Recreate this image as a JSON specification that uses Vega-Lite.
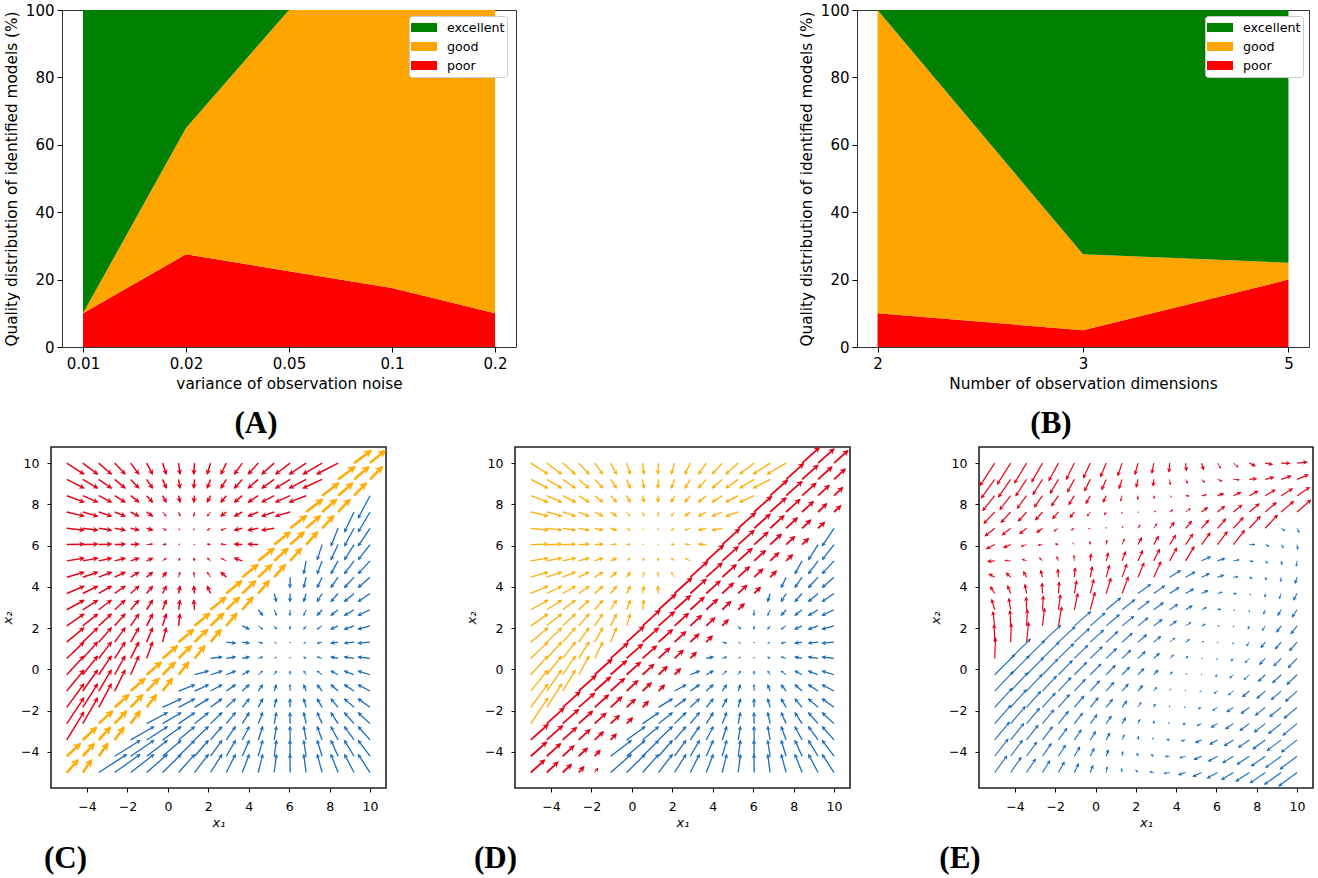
{
"$schema":"https://vega.github.io/schema/vega-lite/v6.json",
"padding":{"left":0,"top":2,"right":0,"bottom":0},
"background":"white",
"config":{"view":{"stroke":null},"font":"DejaVu Sans","axis":{"grid":false,"domain":false,"tickColor":"black","labelColor":"black","titleColor":"black","titleFontWeight":"normal"}},
"datasets":{
"qa":[{"v":"0.01","c":"poor","p":10},{"v":"0.02","c":"poor","p":27.5},{"v":"0.05","c":"poor","p":22.5},{"v":"0.1","c":"poor","p":17.5},{"v":"0.2","c":"poor","p":10},{"v":"0.01","c":"good","p":0},{"v":"0.02","c":"good","p":37.5},{"v":"0.05","c":"good","p":77.5},{"v":"0.1","c":"good","p":82.5},{"v":"0.2","c":"good","p":90},{"v":"0.01","c":"excellent","p":90},{"v":"0.02","c":"excellent","p":35},{"v":"0.05","c":"excellent","p":0},{"v":"0.1","c":"excellent","p":0},{"v":"0.2","c":"excellent","p":0}],
"qb":[{"v":"2","c":"poor","p":10},{"v":"3","c":"poor","p":5},{"v":"5","c":"poor","p":20},{"v":"2","c":"good","p":90},{"v":"3","c":"good","p":22.5},{"v":"5","c":"good","p":5},{"v":"2","c":"excellent","p":0},{"v":"3","c":"excellent","p":72.5},{"v":"5","c":"excellent","p":75}],
"tl":[
{"x":-5,"y":10,"xe":-4.16,"ye":9.47,"ang":122,"k":"r"},{"x":-4.21,"y":10,"xe":-3.48,"ye":9.47,"ang":126,"k":"r"},{"x":-3.42,"y":10,"xe":-2.8,"ye":9.47,"ang":130,"k":"r"},{"x":-2.63,"y":10,"xe":-2.12,"ye":9.47,"ang":136,"k":"r"},{"x":-1.84,"y":10,"xe":-1.44,"ye":9.47,"ang":143,"k":"r"},{"x":-1.05,"y":10,"xe":-0.76,"ye":9.47,"ang":151,"k":"r"},{"x":-0.26,"y":10,"xe":-0.08,"ye":9.47,"ang":161,"k":"r"},{"x":0.53,"y":10,"xe":0.6,"ye":9.47,"ang":172,"k":"r"},{"x":1.32,"y":10,"xe":1.28,"ye":9.47,"ang":184,"k":"r"},{"x":2.11,"y":10,"xe":1.95,"ye":9.47,"ang":197,"k":"r"},{"x":2.89,"y":10,"xe":2.63,"ye":9.47,"ang":206,"k":"r"},{"x":3.68,"y":10,"xe":3.3,"ye":9.47,"ang":216,"k":"r"},{"x":4.47,"y":10,"xe":3.98,"ye":9.47,"ang":223,"k":"r"},{"x":5.26,"y":10,"xe":4.66,"ye":9.47,"ang":229,"k":"r"},{"x":6.05,"y":10,"xe":5.34,"ye":9.47,"ang":233,"k":"r"},{"x":6.84,"y":10,"xe":6.02,"ye":9.47,"ang":237,"k":"r"},{"x":7.63,"y":10,"xe":6.7,"ye":9.47,"ang":240,"k":"r"},{"x":8.42,"y":10,"xe":7.38,"ye":9.47,"ang":243,"k":"r"},
{"x":-5,"y":9.21,"xe":-4.16,"ye":8.79,"ang":117,"k":"r"},{"x":-4.21,"y":9.21,"xe":-3.48,"ye":8.79,"ang":120,"k":"r"},{"x":-3.42,"y":9.21,"xe":-2.8,"ye":8.79,"ang":124,"k":"r"},{"x":-2.63,"y":9.21,"xe":-2.12,"ye":8.79,"ang":130,"k":"r"},{"x":-1.84,"y":9.21,"xe":-1.44,"ye":8.79,"ang":136,"k":"r"},{"x":-1.05,"y":9.21,"xe":-0.76,"ye":8.79,"ang":145,"k":"r"},{"x":-0.26,"y":9.21,"xe":-0.08,"ye":8.79,"ang":157,"k":"r"},{"x":0.53,"y":9.21,"xe":0.6,"ye":8.79,"ang":171,"k":"r"},{"x":1.32,"y":9.21,"xe":1.28,"ye":8.79,"ang":185,"k":"r"},{"x":2.11,"y":9.21,"xe":1.95,"ye":8.79,"ang":201,"k":"r"},{"x":2.89,"y":9.21,"xe":2.63,"ye":8.79,"ang":212,"k":"r"},{"x":3.68,"y":9.21,"xe":3.3,"ye":8.79,"ang":222,"k":"r"},{"x":4.47,"y":9.21,"xe":3.98,"ye":8.79,"ang":229,"k":"r"},{"x":5.26,"y":9.21,"xe":4.66,"ye":8.79,"ang":235,"k":"r"},{"x":6.05,"y":9.21,"xe":5.34,"ye":8.79,"ang":239,"k":"r"},{"x":6.84,"y":9.21,"xe":6.02,"ye":8.79,"ang":243,"k":"r"},{"x":7.63,"y":9.21,"xe":6.7,"ye":8.79,"ang":246,"k":"r"},
{"x":-5,"y":8.42,"xe":-4.16,"ye":8.11,"ang":110,"k":"r"},{"x":-4.21,"y":8.42,"xe":-3.48,"ye":8.11,"ang":113,"k":"r"},{"x":-3.42,"y":8.42,"xe":-2.8,"ye":8.11,"ang":117,"k":"r"},{"x":-2.63,"y":8.42,"xe":-2.12,"ye":8.11,"ang":121,"k":"r"},{"x":-1.84,"y":8.42,"xe":-1.44,"ye":8.11,"ang":128,"k":"r"},{"x":-1.05,"y":8.42,"xe":-0.76,"ye":8.11,"ang":137,"k":"r"},{"x":-0.26,"y":8.42,"xe":-0.08,"ye":8.11,"ang":150,"k":"r"},{"x":0.53,"y":8.42,"xe":0.6,"ye":8.11,"ang":167,"k":"r"},{"x":1.32,"y":8.42,"xe":1.28,"ye":8.11,"ang":187,"k":"r"},{"x":2.11,"y":8.42,"xe":1.95,"ye":8.11,"ang":207,"k":"r"},{"x":2.89,"y":8.42,"xe":2.63,"ye":8.11,"ang":220,"k":"r"},{"x":3.68,"y":8.42,"xe":3.3,"ye":8.11,"ang":231,"k":"r"},{"x":4.47,"y":8.42,"xe":3.98,"ye":8.11,"ang":238,"k":"r"},{"x":5.26,"y":8.42,"xe":4.66,"ye":8.11,"ang":243,"k":"r"},{"x":6.05,"y":8.42,"xe":5.34,"ye":8.11,"ang":246,"k":"r"},{"x":6.84,"y":8.42,"xe":6.02,"ye":8.11,"ang":249,"k":"r"},
{"x":-5,"y":7.63,"xe":-4.16,"ye":7.43,"ang":103,"k":"r"},{"x":-4.21,"y":7.63,"xe":-3.48,"ye":7.43,"ang":105,"k":"r"},{"x":-3.42,"y":7.63,"xe":-2.8,"ye":7.43,"ang":108,"k":"r"},{"x":-2.63,"y":7.63,"xe":-2.12,"ye":7.43,"ang":111,"k":"r"},{"x":-1.84,"y":7.63,"xe":-1.44,"ye":7.43,"ang":117,"k":"r"},{"x":-1.05,"y":7.63,"xe":-0.76,"ye":7.43,"ang":125,"k":"r"},{"x":-0.26,"y":7.63,"xe":-0.08,"ye":7.43,"ang":138,"k":"s"},{"x":0.53,"y":7.63,"xe":0.6,"ye":7.43,"ang":161,"k":"s"},{"x":1.32,"y":7.63,"xe":1.28,"ye":7.43,"ang":191,"k":"s"},{"x":2.11,"y":7.63,"xe":1.95,"ye":7.43,"ang":219,"k":"s"},{"x":2.89,"y":7.63,"xe":2.63,"ye":7.43,"ang":232,"k":"r"},{"x":3.68,"y":7.63,"xe":3.3,"ye":7.43,"ang":242,"k":"r"},{"x":4.47,"y":7.63,"xe":3.98,"ye":7.43,"ang":248,"k":"r"},{"x":5.26,"y":7.63,"xe":4.66,"ye":7.43,"ang":252,"k":"r"},{"x":6.05,"y":7.63,"xe":5.34,"ye":7.43,"ang":254,"k":"r"},
{"x":-5,"y":6.84,"xe":-4.16,"ye":6.75,"ang":96,"k":"r"},{"x":-4.21,"y":6.84,"xe":-3.48,"ye":6.75,"ang":97,"k":"r"},{"x":-3.42,"y":6.84,"xe":-2.8,"ye":6.75,"ang":98,"k":"r"},{"x":-2.63,"y":6.84,"xe":-2.12,"ye":6.75,"ang":100,"k":"r"},{"x":-1.84,"y":6.84,"xe":-1.44,"ye":6.75,"ang":103,"k":"r"},{"x":-1.05,"y":6.84,"xe":-0.76,"ye":6.75,"ang":107,"k":"r"},{"x":-0.26,"y":6.84,"xe":-0.08,"ye":6.75,"ang":117,"k":"s"},{"x":0.53,"y":6.84,"xe":0.6,"ye":6.75,"ang":142,"k":"t"},{"x":1.32,"y":6.84,"xe":1.28,"ye":6.75,"ang":204,"k":"t"},{"x":2.11,"y":6.84,"xe":1.95,"ye":6.75,"ang":241,"k":"s"},{"x":2.89,"y":6.84,"xe":2.63,"ye":6.75,"ang":251,"k":"s"},{"x":3.68,"y":6.84,"xe":3.3,"ye":6.75,"ang":257,"k":"r"},{"x":4.47,"y":6.84,"xe":3.98,"ye":6.75,"ang":260,"k":"r"},{"x":5.26,"y":6.84,"xe":4.66,"ye":6.75,"ang":261,"k":"r"},
{"x":-5,"y":6.05,"xe":-4.16,"ye":6.07,"ang":89,"k":"r"},{"x":-4.21,"y":6.05,"xe":-3.48,"ye":6.07,"ang":88,"k":"r"},{"x":-3.42,"y":6.05,"xe":-2.8,"ye":6.07,"ang":88,"k":"r"},{"x":-2.63,"y":6.05,"xe":-2.12,"ye":6.07,"ang":88,"k":"r"},{"x":-1.84,"y":6.05,"xe":-1.44,"ye":6.07,"ang":87,"k":"r"},{"x":-1.05,"y":6.05,"xe":-0.76,"ye":6.07,"ang":86,"k":"s"},{"x":-0.26,"y":6.05,"xe":-0.08,"ye":6.07,"ang":84,"k":"s"},{"x":0.53,"y":6.05,"xe":0.6,"ye":6.07,"ang":74,"k":"t"},{"x":1.32,"y":6.05,"xe":1.28,"ye":6.07,"ang":297,"k":"t"},{"x":2.11,"y":6.05,"xe":1.95,"ye":6.07,"ang":277,"k":"s"},{"x":2.89,"y":6.05,"xe":2.63,"ye":6.07,"ang":274,"k":"s"},{"x":3.68,"y":6.05,"xe":3.3,"ye":6.07,"ang":273,"k":"r"},{"x":4.47,"y":6.05,"xe":3.98,"ye":6.07,"ang":272,"k":"r"},
{"x":-5,"y":5.26,"xe":-4.16,"ye":5.39,"ang":81,"k":"r"},{"x":-4.21,"y":5.26,"xe":-3.48,"ye":5.39,"ang":80,"k":"r"},{"x":-3.42,"y":5.26,"xe":-2.8,"ye":5.39,"ang":78,"k":"r"},{"x":-2.63,"y":5.26,"xe":-2.12,"ye":5.39,"ang":76,"k":"r"},{"x":-1.84,"y":5.26,"xe":-1.44,"ye":5.39,"ang":72,"k":"r"},{"x":-1.05,"y":5.26,"xe":-0.76,"ye":5.39,"ang":66,"k":"r"},{"x":-0.26,"y":5.26,"xe":-0.08,"ye":5.39,"ang":54,"k":"s"},{"x":0.53,"y":5.26,"xe":0.6,"ye":5.39,"ang":28,"k":"s"},{"x":1.32,"y":5.26,"xe":1.28,"ye":5.39,"ang":343,"k":"s"},{"x":2.11,"y":5.26,"xe":1.95,"ye":5.39,"ang":309,"k":"s"},{"x":2.89,"y":5.26,"xe":2.63,"ye":5.39,"ang":297,"k":"s"},{"x":3.68,"y":5.26,"xe":3.3,"ye":5.39,"ang":289,"k":"r"},
{"x":-5,"y":4.47,"xe":-4.16,"ye":4.71,"ang":74,"k":"r"},{"x":-4.21,"y":4.47,"xe":-3.48,"ye":4.71,"ang":72,"k":"r"},{"x":-3.42,"y":4.47,"xe":-2.8,"ye":4.71,"ang":69,"k":"r"},{"x":-2.63,"y":4.47,"xe":-2.12,"ye":4.71,"ang":65,"k":"r"},{"x":-1.84,"y":4.47,"xe":-1.44,"ye":4.71,"ang":59,"k":"r"},{"x":-1.05,"y":4.47,"xe":-0.76,"ye":4.71,"ang":50,"k":"r"},{"x":-0.26,"y":4.47,"xe":-0.08,"ye":4.71,"ang":37,"k":"r"},{"x":0.53,"y":4.47,"xe":0.6,"ye":4.71,"ang":16,"k":"s"},{"x":1.32,"y":4.47,"xe":1.28,"ye":4.71,"ang":351,"k":"s"},{"x":2.11,"y":4.47,"xe":1.95,"ye":4.71,"ang":326,"k":"s"},{"x":2.89,"y":4.47,"xe":2.63,"ye":4.71,"ang":313,"k":"r"},
{"x":-5,"y":3.68,"xe":-4.16,"ye":4.03,"ang":67,"k":"r"},{"x":-4.21,"y":3.68,"xe":-3.48,"ye":4.03,"ang":64,"k":"r"},{"x":-3.42,"y":3.68,"xe":-2.8,"ye":4.03,"ang":61,"k":"r"},{"x":-2.63,"y":3.68,"xe":-2.12,"ye":4.03,"ang":56,"k":"r"},{"x":-1.84,"y":3.68,"xe":-1.44,"ye":4.03,"ang":49,"k":"r"},{"x":-1.05,"y":3.68,"xe":-0.76,"ye":4.03,"ang":40,"k":"r"},{"x":-0.26,"y":3.68,"xe":-0.08,"ye":4.03,"ang":27,"k":"r"},{"x":0.53,"y":3.68,"xe":0.6,"ye":4.03,"ang":11,"k":"r"},{"x":1.32,"y":3.68,"xe":1.28,"ye":4.03,"ang":353,"k":"r"},{"x":2.11,"y":3.68,"xe":1.95,"ye":4.03,"ang":335,"k":"r"},
{"x":-5,"y":2.89,"xe":-4.16,"ye":3.35,"ang":61,"k":"r"},{"x":-4.21,"y":2.89,"xe":-3.48,"ye":3.35,"ang":58,"k":"r"},{"x":-3.42,"y":2.89,"xe":-2.8,"ye":3.35,"ang":53,"k":"r"},{"x":-2.63,"y":2.89,"xe":-2.12,"ye":3.35,"ang":48,"k":"r"},{"x":-1.84,"y":2.89,"xe":-1.44,"ye":3.35,"ang":41,"k":"r"},{"x":-1.05,"y":2.89,"xe":-0.76,"ye":3.35,"ang":32,"k":"r"},{"x":-0.26,"y":2.89,"xe":-0.08,"ye":3.35,"ang":21,"k":"r"},{"x":0.53,"y":2.89,"xe":0.6,"ye":3.35,"ang":9,"k":"r"},{"x":1.32,"y":2.89,"xe":1.28,"ye":3.35,"ang":355,"k":"r"},
{"x":-5,"y":2.11,"xe":-4.16,"ye":2.68,"ang":56,"k":"r"},{"x":-4.21,"y":2.11,"xe":-3.48,"ye":2.68,"ang":52,"k":"r"},{"x":-3.42,"y":2.11,"xe":-2.8,"ye":2.68,"ang":47,"k":"r"},{"x":-2.63,"y":2.11,"xe":-2.12,"ye":2.68,"ang":42,"k":"r"},{"x":-1.84,"y":2.11,"xe":-1.44,"ye":2.68,"ang":35,"k":"r"},{"x":-1.05,"y":2.11,"xe":-0.76,"ye":2.68,"ang":27,"k":"r"},{"x":-0.26,"y":2.11,"xe":-0.08,"ye":2.68,"ang":18,"k":"r"},{"x":0.53,"y":2.11,"xe":0.6,"ye":2.68,"ang":7,"k":"r"},
{"x":-5,"y":1.32,"xe":-4.16,"ye":2.01,"ang":51,"k":"r"},{"x":-4.21,"y":1.32,"xe":-3.48,"ye":2.01,"ang":47,"k":"r"},{"x":-3.42,"y":1.32,"xe":-2.8,"ye":2.01,"ang":42,"k":"r"},{"x":-2.63,"y":1.32,"xe":-2.12,"ye":2.01,"ang":36,"k":"r"},{"x":-1.84,"y":1.32,"xe":-1.44,"ye":2.01,"ang":30,"k":"r"},{"x":-1.05,"y":1.32,"xe":-0.76,"ye":2.01,"ang":23,"k":"r"},{"x":-0.26,"y":1.32,"xe":-0.08,"ye":2.01,"ang":15,"k":"r"},
{"x":-5,"y":0.53,"xe":-4.16,"ye":1.32,"ang":47,"k":"r"},{"x":-4.21,"y":0.53,"xe":-3.48,"ye":1.32,"ang":43,"k":"r"},{"x":-3.42,"y":0.53,"xe":-2.8,"ye":1.32,"ang":38,"k":"r"},{"x":-2.63,"y":0.53,"xe":-2.12,"ye":1.32,"ang":33,"k":"r"},{"x":-1.84,"y":0.53,"xe":-1.44,"ye":1.32,"ang":27,"k":"r"},{"x":-1.05,"y":0.53,"xe":-0.76,"ye":1.32,"ang":20,"k":"r"},
{"x":-5,"y":-0.26,"xe":-4.16,"ye":0.64,"ang":43,"k":"r"},{"x":-4.21,"y":-0.26,"xe":-3.48,"ye":0.64,"ang":39,"k":"r"},{"x":-3.42,"y":-0.26,"xe":-2.8,"ye":0.64,"ang":35,"k":"r"},{"x":-2.63,"y":-0.26,"xe":-2.12,"ye":0.64,"ang":30,"k":"r"},{"x":-1.84,"y":-0.26,"xe":-1.44,"ye":0.64,"ang":24,"k":"r"},
{"x":-5,"y":-1.05,"xe":-4.16,"ye":-0.04,"ang":40,"k":"r"},{"x":-4.21,"y":-1.05,"xe":-3.48,"ye":-0.04,"ang":36,"k":"r"},{"x":-3.42,"y":-1.05,"xe":-2.8,"ye":-0.04,"ang":32,"k":"r"},{"x":-2.63,"y":-1.05,"xe":-2.12,"ye":-0.04,"ang":27,"k":"r"},
{"x":-5,"y":-1.84,"xe":-4.16,"ye":-0.71,"ang":37,"k":"r"},{"x":-4.21,"y":-1.84,"xe":-3.48,"ye":-0.71,"ang":33,"k":"r"},{"x":-3.42,"y":-1.84,"xe":-2.8,"ye":-0.71,"ang":29,"k":"r"},
{"x":-5,"y":-2.63,"xe":-4.16,"ye":-1.39,"ang":34,"k":"r"},{"x":-4.21,"y":-2.63,"xe":-3.48,"ye":-1.39,"ang":30,"k":"r"},
{"x":-5,"y":-3.42,"xe":-4.16,"ye":-2.07,"ang":32,"k":"r"}
],
"br":[
{"x":10,"y":8.42,"xe":9.42,"ye":7.34,"ang":208,"k":"b"},
{"x":9.21,"y":7.63,"xe":8.74,"ye":6.67,"ang":206,"k":"b"},{"x":10,"y":7.63,"xe":9.42,"ye":6.67,"ang":211,"k":"b"},
{"x":8.42,"y":6.84,"xe":8.07,"ye":5.99,"ang":203,"k":"b"},{"x":9.21,"y":6.84,"xe":8.74,"ye":5.99,"ang":209,"k":"b"},{"x":10,"y":6.84,"xe":9.42,"ye":5.99,"ang":214,"k":"b"},
{"x":7.63,"y":6.05,"xe":7.39,"ye":5.32,"ang":198,"k":"b"},{"x":8.42,"y":6.05,"xe":8.07,"ye":5.32,"ang":206,"k":"b"},{"x":9.21,"y":6.05,"xe":8.74,"ye":5.32,"ang":212,"k":"b"},{"x":10,"y":6.05,"xe":9.42,"ye":5.32,"ang":218,"k":"b"},
{"x":6.84,"y":5.26,"xe":6.72,"ye":4.64,"ang":191,"k":"b"},{"x":7.63,"y":5.26,"xe":7.39,"ye":4.64,"ang":201,"k":"b"},{"x":8.42,"y":5.26,"xe":8.07,"ye":4.64,"ang":210,"k":"b"},{"x":9.21,"y":5.26,"xe":8.74,"ye":4.64,"ang":217,"k":"b"},{"x":10,"y":5.26,"xe":9.42,"ye":4.64,"ang":223,"k":"b"},
{"x":6.05,"y":4.47,"xe":6.04,"ye":3.97,"ang":181,"k":"b"},{"x":6.84,"y":4.47,"xe":6.72,"ye":3.97,"ang":194,"k":"b"},{"x":7.63,"y":4.47,"xe":7.39,"ye":3.97,"ang":205,"k":"b"},{"x":8.42,"y":4.47,"xe":8.07,"ye":3.97,"ang":215,"k":"b"},{"x":9.21,"y":4.47,"xe":8.74,"ye":3.97,"ang":223,"k":"b"},{"x":10,"y":4.47,"xe":9.42,"ye":3.97,"ang":229,"k":"b"},
{"x":5.26,"y":3.68,"xe":5.37,"ye":3.29,"ang":164,"k":"b"},{"x":6.05,"y":3.68,"xe":6.04,"ye":3.29,"ang":181,"k":"b"},{"x":6.84,"y":3.68,"xe":6.72,"ye":3.29,"ang":197,"k":"b"},{"x":7.63,"y":3.68,"xe":7.39,"ye":3.29,"ang":211,"k":"b"},{"x":8.42,"y":3.68,"xe":8.07,"ye":3.29,"ang":222,"k":"b"},{"x":9.21,"y":3.68,"xe":8.74,"ye":3.29,"ang":230,"k":"b"},{"x":10,"y":3.68,"xe":9.42,"ye":3.29,"ang":236,"k":"b"},
{"x":4.47,"y":2.89,"xe":4.69,"ye":2.62,"ang":140,"k":"b"},{"x":5.26,"y":2.89,"xe":5.37,"ye":2.62,"ang":158,"k":"c"},{"x":6.05,"y":2.89,"xe":6.04,"ye":2.62,"ang":181,"k":"c"},{"x":6.84,"y":2.89,"xe":6.72,"ye":2.62,"ang":204,"k":"c"},{"x":7.63,"y":2.89,"xe":7.39,"ye":2.62,"ang":221,"k":"b"},{"x":8.42,"y":2.89,"xe":8.07,"ye":2.62,"ang":232,"k":"b"},{"x":9.21,"y":2.89,"xe":8.74,"ye":2.62,"ang":240,"k":"b"},{"x":10,"y":2.89,"xe":9.42,"ye":2.62,"ang":245,"k":"b"},
{"x":3.68,"y":2.11,"xe":4.02,"ye":1.95,"ang":116,"k":"b"},{"x":4.47,"y":2.11,"xe":4.69,"ye":1.95,"ang":126,"k":"c"},{"x":5.26,"y":2.11,"xe":5.37,"ye":1.95,"ang":146,"k":"c"},{"x":6.05,"y":2.11,"xe":6.04,"ye":1.95,"ang":182,"k":"c"},{"x":6.84,"y":2.11,"xe":6.72,"ye":1.95,"ang":216,"k":"c"},{"x":7.63,"y":2.11,"xe":7.39,"ye":1.95,"ang":235,"k":"c"},{"x":8.42,"y":2.11,"xe":8.07,"ye":1.95,"ang":245,"k":"b"},{"x":9.21,"y":2.11,"xe":8.74,"ye":1.95,"ang":251,"k":"b"},{"x":10,"y":2.11,"xe":9.42,"ye":1.95,"ang":254,"k":"b"},
{"x":2.89,"y":1.32,"xe":3.34,"ye":1.27,"ang":96,"k":"b"},{"x":3.68,"y":1.32,"xe":4.02,"ye":1.27,"ang":98,"k":"b"},{"x":4.47,"y":1.32,"xe":4.69,"ye":1.27,"ang":102,"k":"c"},{"x":5.26,"y":1.32,"xe":5.37,"ye":1.27,"ang":114,"k":"d"},{"x":6.05,"y":1.32,"xe":6.04,"ye":1.27,"ang":187,"k":"d"},{"x":6.84,"y":1.32,"xe":6.72,"ye":1.27,"ang":248,"k":"d"},{"x":7.63,"y":1.32,"xe":7.39,"ye":1.27,"ang":258,"k":"c"},{"x":8.42,"y":1.32,"xe":8.07,"ye":1.27,"ang":262,"k":"b"},{"x":9.21,"y":1.32,"xe":8.74,"ye":1.27,"ang":264,"k":"b"},{"x":10,"y":1.32,"xe":9.42,"ye":1.27,"ang":265,"k":"b"},
{"x":2.11,"y":0.53,"xe":2.67,"ye":0.6,"ang":83,"k":"b"},{"x":2.89,"y":0.53,"xe":3.34,"ye":0.6,"ang":82,"k":"b"},{"x":3.68,"y":0.53,"xe":4.02,"ye":0.6,"ang":79,"k":"b"},{"x":4.47,"y":0.53,"xe":4.69,"ye":0.6,"ang":73,"k":"c"},{"x":5.26,"y":0.53,"xe":5.37,"ye":0.6,"ang":58,"k":"d"},{"x":6.05,"y":0.53,"xe":6.04,"ye":0.6,"ang":355,"k":"d"},{"x":6.84,"y":0.53,"xe":6.72,"ye":0.6,"ang":299,"k":"c"},{"x":7.63,"y":0.53,"xe":7.39,"ye":0.6,"ang":286,"k":"c"},{"x":8.42,"y":0.53,"xe":8.07,"ye":0.6,"ang":281,"k":"b"},{"x":9.21,"y":0.53,"xe":8.74,"ye":0.6,"ang":278,"k":"b"},{"x":10,"y":0.53,"xe":9.42,"ye":0.6,"ang":277,"k":"b"},
{"x":1.32,"y":-0.26,"xe":2,"ye":-0.08,"ang":75,"k":"b"},{"x":2.11,"y":-0.26,"xe":2.67,"ye":-0.08,"ang":72,"k":"b"},{"x":2.89,"y":-0.26,"xe":3.34,"ye":-0.08,"ang":68,"k":"b"},{"x":3.68,"y":-0.26,"xe":4.02,"ye":-0.08,"ang":62,"k":"b"},{"x":4.47,"y":-0.26,"xe":4.69,"ye":-0.08,"ang":51,"k":"c"},{"x":5.26,"y":-0.26,"xe":5.37,"ye":-0.08,"ang":31,"k":"c"},{"x":6.05,"y":-0.26,"xe":6.04,"ye":-0.08,"ang":358,"k":"c"},{"x":6.84,"y":-0.26,"xe":6.72,"ye":-0.08,"ang":326,"k":"c"},{"x":7.63,"y":-0.26,"xe":7.39,"ye":-0.08,"ang":308,"k":"c"},{"x":8.42,"y":-0.26,"xe":8.07,"ye":-0.08,"ang":297,"k":"b"},{"x":9.21,"y":-0.26,"xe":8.74,"ye":-0.08,"ang":291,"k":"b"},{"x":10,"y":-0.26,"xe":9.42,"ye":-0.08,"ang":287,"k":"b"},
{"x":0.53,"y":-1.05,"xe":1.32,"ye":-0.75,"ang":69,"k":"b"},{"x":1.32,"y":-1.05,"xe":2,"ye":-0.75,"ang":66,"k":"b"},{"x":2.11,"y":-1.05,"xe":2.67,"ye":-0.75,"ang":62,"k":"b"},{"x":2.89,"y":-1.05,"xe":3.34,"ye":-0.75,"ang":57,"k":"b"},{"x":3.68,"y":-1.05,"xe":4.02,"ye":-0.75,"ang":49,"k":"b"},{"x":4.47,"y":-1.05,"xe":4.69,"ye":-0.75,"ang":37,"k":"b"},{"x":5.26,"y":-1.05,"xe":5.37,"ye":-0.75,"ang":20,"k":"b"},{"x":6.05,"y":-1.05,"xe":6.04,"ye":-0.75,"ang":359,"k":"c"},{"x":6.84,"y":-1.05,"xe":6.72,"ye":-0.75,"ang":338,"k":"b"},{"x":7.63,"y":-1.05,"xe":7.39,"ye":-0.75,"ang":321,"k":"b"},{"x":8.42,"y":-1.05,"xe":8.07,"ye":-0.75,"ang":310,"k":"b"},{"x":9.21,"y":-1.05,"xe":8.74,"ye":-0.75,"ang":302,"k":"b"},{"x":10,"y":-1.05,"xe":9.42,"ye":-0.75,"ang":297,"k":"b"},
{"x":-0.26,"y":-1.84,"xe":0.65,"ye":-1.43,"ang":66,"k":"b"},{"x":0.53,"y":-1.84,"xe":1.32,"ye":-1.43,"ang":63,"k":"b"},{"x":1.32,"y":-1.84,"xe":2,"ye":-1.43,"ang":59,"k":"b"},{"x":2.11,"y":-1.84,"xe":2.67,"ye":-1.43,"ang":54,"k":"b"},{"x":2.89,"y":-1.84,"xe":3.34,"ye":-1.43,"ang":48,"k":"b"},{"x":3.68,"y":-1.84,"xe":4.02,"ye":-1.43,"ang":39,"k":"b"},{"x":4.47,"y":-1.84,"xe":4.69,"ye":-1.43,"ang":29,"k":"b"},{"x":5.26,"y":-1.84,"xe":5.37,"ye":-1.43,"ang":15,"k":"b"},{"x":6.05,"y":-1.84,"xe":6.04,"ye":-1.43,"ang":359,"k":"b"},{"x":6.84,"y":-1.84,"xe":6.72,"ye":-1.43,"ang":344,"k":"b"},{"x":7.63,"y":-1.84,"xe":7.39,"ye":-1.43,"ang":330,"k":"b"},{"x":8.42,"y":-1.84,"xe":8.07,"ye":-1.43,"ang":320,"k":"b"},{"x":9.21,"y":-1.84,"xe":8.74,"ye":-1.43,"ang":312,"k":"b"},{"x":10,"y":-1.84,"xe":9.42,"ye":-1.43,"ang":305,"k":"b"},
{"x":-1.05,"y":-2.63,"xe":-0.03,"ye":-2.1,"ang":63,"k":"b"},{"x":-0.26,"y":-2.63,"xe":0.65,"ye":-2.1,"ang":60,"k":"b"},{"x":0.53,"y":-2.63,"xe":1.32,"ye":-2.1,"ang":56,"k":"b"},{"x":1.32,"y":-2.63,"xe":2,"ye":-2.1,"ang":52,"k":"b"},{"x":2.11,"y":-2.63,"xe":2.67,"ye":-2.1,"ang":47,"k":"b"},{"x":2.89,"y":-2.63,"xe":3.34,"ye":-2.1,"ang":41,"k":"b"},{"x":3.68,"y":-2.63,"xe":4.02,"ye":-2.1,"ang":33,"k":"b"},{"x":4.47,"y":-2.63,"xe":4.69,"ye":-2.1,"ang":23,"k":"b"},{"x":5.26,"y":-2.63,"xe":5.37,"ye":-2.1,"ang":12,"k":"b"},{"x":6.05,"y":-2.63,"xe":6.04,"ye":-2.1,"ang":359,"k":"b"},{"x":6.84,"y":-2.63,"xe":6.72,"ye":-2.1,"ang":347,"k":"b"},{"x":7.63,"y":-2.63,"xe":7.39,"ye":-2.1,"ang":336,"k":"b"},{"x":8.42,"y":-2.63,"xe":8.07,"ye":-2.1,"ang":326,"k":"b"},{"x":9.21,"y":-2.63,"xe":8.74,"ye":-2.1,"ang":318,"k":"b"},{"x":10,"y":-2.63,"xe":9.42,"ye":-2.1,"ang":312,"k":"b"},
{"x":-1.84,"y":-3.42,"xe":-0.7,"ye":-2.78,"ang":61,"k":"b"},{"x":-1.05,"y":-3.42,"xe":-0.03,"ye":-2.78,"ang":58,"k":"b"},{"x":-0.26,"y":-3.42,"xe":0.65,"ye":-2.78,"ang":55,"k":"b"},{"x":0.53,"y":-3.42,"xe":1.32,"ye":-2.78,"ang":51,"k":"b"},{"x":1.32,"y":-3.42,"xe":2,"ye":-2.78,"ang":47,"k":"b"},{"x":2.11,"y":-3.42,"xe":2.67,"ye":-2.78,"ang":41,"k":"b"},{"x":2.89,"y":-3.42,"xe":3.34,"ye":-2.78,"ang":35,"k":"b"},{"x":3.68,"y":-3.42,"xe":4.02,"ye":-2.78,"ang":28,"k":"b"},{"x":4.47,"y":-3.42,"xe":4.69,"ye":-2.78,"ang":19,"k":"b"},{"x":5.26,"y":-3.42,"xe":5.37,"ye":-2.78,"ang":10,"k":"b"},{"x":6.05,"y":-3.42,"xe":6.04,"ye":-2.78,"ang":359,"k":"b"},{"x":6.84,"y":-3.42,"xe":6.72,"ye":-2.78,"ang":349,"k":"b"},{"x":7.63,"y":-3.42,"xe":7.39,"ye":-2.78,"ang":340,"k":"b"},{"x":8.42,"y":-3.42,"xe":8.07,"ye":-2.78,"ang":331,"k":"b"},{"x":9.21,"y":-3.42,"xe":8.74,"ye":-2.78,"ang":324,"k":"b"},{"x":10,"y":-3.42,"xe":9.42,"ye":-2.78,"ang":318,"k":"b"},
{"x":-2.63,"y":-4.21,"xe":-1.38,"ye":-3.45,"ang":59,"k":"b"},{"x":-1.84,"y":-4.21,"xe":-0.7,"ye":-3.45,"ang":56,"k":"b"},{"x":-1.05,"y":-4.21,"xe":-0.03,"ye":-3.45,"ang":54,"k":"b"},{"x":-0.26,"y":-4.21,"xe":0.65,"ye":-3.45,"ang":50,"k":"b"},{"x":0.53,"y":-4.21,"xe":1.32,"ye":-3.45,"ang":46,"k":"b"},{"x":1.32,"y":-4.21,"xe":2,"ye":-3.45,"ang":42,"k":"b"},{"x":2.11,"y":-4.21,"xe":2.67,"ye":-3.45,"ang":37,"k":"b"},{"x":2.89,"y":-4.21,"xe":3.34,"ye":-3.45,"ang":31,"k":"b"},{"x":3.68,"y":-4.21,"xe":4.02,"ye":-3.45,"ang":24,"k":"b"},{"x":4.47,"y":-4.21,"xe":4.69,"ye":-3.45,"ang":16,"k":"b"},{"x":5.26,"y":-4.21,"xe":5.37,"ye":-3.45,"ang":8,"k":"b"},{"x":6.05,"y":-4.21,"xe":6.04,"ye":-3.45,"ang":0,"k":"b"},{"x":6.84,"y":-4.21,"xe":6.72,"ye":-3.45,"ang":351,"k":"b"},{"x":7.63,"y":-4.21,"xe":7.39,"ye":-3.45,"ang":343,"k":"b"},{"x":8.42,"y":-4.21,"xe":8.07,"ye":-3.45,"ang":335,"k":"b"},{"x":9.21,"y":-4.21,"xe":8.74,"ye":-3.45,"ang":328,"k":"b"},{"x":10,"y":-4.21,"xe":9.42,"ye":-3.45,"ang":322,"k":"b"},
{"x":-3.42,"y":-5,"xe":-2.05,"ye":-4.13,"ang":58,"k":"b"},{"x":-2.63,"y":-5,"xe":-1.38,"ye":-4.13,"ang":55,"k":"b"},{"x":-1.84,"y":-5,"xe":-0.7,"ye":-4.13,"ang":53,"k":"b"},{"x":-1.05,"y":-5,"xe":-0.03,"ye":-4.13,"ang":50,"k":"b"},{"x":-0.26,"y":-5,"xe":0.65,"ye":-4.13,"ang":46,"k":"b"},{"x":0.53,"y":-5,"xe":1.32,"ye":-4.13,"ang":42,"k":"b"},{"x":1.32,"y":-5,"xe":2,"ye":-4.13,"ang":38,"k":"b"},{"x":2.11,"y":-5,"xe":2.67,"ye":-4.13,"ang":33,"k":"b"},{"x":2.89,"y":-5,"xe":3.34,"ye":-4.13,"ang":28,"k":"b"},{"x":3.68,"y":-5,"xe":4.02,"ye":-4.13,"ang":21,"k":"b"},{"x":4.47,"y":-5,"xe":4.69,"ye":-4.13,"ang":14,"k":"b"},{"x":5.26,"y":-5,"xe":5.37,"ye":-4.13,"ang":7,"k":"b"},{"x":6.05,"y":-5,"xe":6.04,"ye":-4.13,"ang":0,"k":"b"},{"x":6.84,"y":-5,"xe":6.72,"ye":-4.13,"ang":352,"k":"b"},{"x":7.63,"y":-5,"xe":7.39,"ye":-4.13,"ang":345,"k":"b"},{"x":8.42,"y":-5,"xe":8.07,"ye":-4.13,"ang":338,"k":"b"},{"x":9.21,"y":-5,"xe":8.74,"ye":-4.13,"ang":332,"k":"b"},{"x":10,"y":-5,"xe":9.42,"ye":-4.13,"ang":326,"k":"b"}
],
"cm":[
{"x":-5,"y":-4.21,"xe":-4.34,"ye":-3.61,"ang":48,"k":"o"},{"x":-4.21,"y":-3.42,"xe":-3.54,"ye":-2.82,"ang":48,"k":"o"},{"x":-3.42,"y":-2.63,"xe":-2.74,"ye":-2.03,"ang":49,"k":"o"},{"x":-2.63,"y":-1.84,"xe":-1.94,"ye":-1.24,"ang":49,"k":"o"},{"x":-1.84,"y":-1.05,"xe":-1.14,"ye":-0.45,"ang":49,"k":"o"},{"x":-1.05,"y":-0.26,"xe":-0.34,"ye":0.34,"ang":50,"k":"o"},{"x":-0.26,"y":0.53,"xe":0.46,"ye":1.13,"ang":50,"k":"o"},{"x":0.53,"y":1.32,"xe":1.26,"ye":1.92,"ang":51,"k":"o"},{"x":1.32,"y":2.11,"xe":2.06,"ye":2.71,"ang":51,"k":"o"},{"x":2.11,"y":2.89,"xe":2.86,"ye":3.49,"ang":51,"k":"o"},{"x":2.89,"y":3.68,"xe":3.64,"ye":4.28,"ang":51,"k":"o"},{"x":3.68,"y":4.47,"xe":4.44,"ye":5.07,"ang":52,"k":"o"},{"x":4.47,"y":5.26,"xe":5.24,"ye":5.86,"ang":52,"k":"o"},{"x":5.26,"y":6.05,"xe":6.04,"ye":6.65,"ang":52,"k":"o"},{"x":6.05,"y":6.84,"xe":6.84,"ye":7.44,"ang":53,"k":"o"},{"x":6.84,"y":7.63,"xe":7.64,"ye":8.23,"ang":53,"k":"o"},{"x":7.63,"y":8.42,"xe":8.44,"ye":9.02,"ang":53,"k":"o"},{"x":8.42,"y":9.21,"xe":9.24,"ye":9.81,"ang":54,"k":"o"},{"x":9.21,"y":10,"xe":10.04,"ye":10.6,"ang":54,"k":"o"},
{"x":-5,"y":-5,"xe":-4.45,"ye":-4.4,"ang":42,"k":"o"},{"x":-4.21,"y":-4.21,"xe":-3.65,"ye":-3.61,"ang":43,"k":"o"},{"x":-3.42,"y":-3.42,"xe":-2.85,"ye":-2.82,"ang":44,"k":"o"},{"x":-2.63,"y":-2.63,"xe":-2.05,"ye":-2.03,"ang":44,"k":"o"},{"x":-1.84,"y":-1.84,"xe":-1.25,"ye":-1.24,"ang":45,"k":"o"},{"x":-1.05,"y":-1.05,"xe":-0.45,"ye":-0.45,"ang":45,"k":"o"},{"x":-0.26,"y":-0.26,"xe":0.35,"ye":0.34,"ang":45,"k":"o"},{"x":0.53,"y":0.53,"xe":1.15,"ye":1.13,"ang":46,"k":"o"},{"x":1.32,"y":1.32,"xe":1.95,"ye":1.92,"ang":46,"k":"o"},{"x":2.11,"y":2.11,"xe":2.75,"ye":2.71,"ang":47,"k":"o"},{"x":2.89,"y":2.89,"xe":3.53,"ye":3.49,"ang":47,"k":"o"},{"x":3.68,"y":3.68,"xe":4.33,"ye":4.28,"ang":47,"k":"o"},{"x":4.47,"y":4.47,"xe":5.13,"ye":5.07,"ang":48,"k":"o"},{"x":5.26,"y":5.26,"xe":5.93,"ye":5.86,"ang":48,"k":"o"},{"x":6.05,"y":6.05,"xe":6.73,"ye":6.65,"ang":49,"k":"o"},{"x":6.84,"y":6.84,"xe":7.53,"ye":7.44,"ang":49,"k":"o"},{"x":7.63,"y":7.63,"xe":8.33,"ye":8.23,"ang":49,"k":"o"},{"x":8.42,"y":8.42,"xe":9.13,"ye":9.02,"ang":50,"k":"o"},{"x":9.21,"y":9.21,"xe":9.93,"ye":9.81,"ang":50,"k":"o"},{"x":10,"y":10,"xe":10.73,"ye":10.6,"ang":51,"k":"o"},
{"x":-4.21,"y":-5,"xe":-3.78,"ye":-4.4,"ang":36,"k":"o"},{"x":-3.42,"y":-4.21,"xe":-2.98,"ye":-3.61,"ang":36,"k":"o"},{"x":-2.63,"y":-3.42,"xe":-2.18,"ye":-2.82,"ang":37,"k":"o"},{"x":-1.84,"y":-2.63,"xe":-1.38,"ye":-2.03,"ang":37,"k":"o"},{"x":-1.05,"y":-1.84,"xe":-0.58,"ye":-1.24,"ang":38,"k":"o"},{"x":-0.26,"y":-1.05,"xe":0.22,"ye":-0.45,"ang":39,"k":"o"},{"x":0.53,"y":-0.26,"xe":1.02,"ye":0.34,"ang":39,"k":"o"},{"x":1.32,"y":0.53,"xe":1.82,"ye":1.13,"ang":40,"k":"o"},{"x":2.11,"y":1.32,"xe":2.62,"ye":1.92,"ang":40,"k":"o"},{"x":2.89,"y":2.11,"xe":3.4,"ye":2.71,"ang":40,"k":"o"},{"x":3.68,"y":2.89,"xe":4.2,"ye":3.49,"ang":41,"k":"o"},{"x":4.47,"y":3.68,"xe":5,"ye":4.28,"ang":41,"k":"o"},{"x":5.26,"y":4.47,"xe":5.8,"ye":5.07,"ang":42,"k":"o"},{"x":6.05,"y":5.26,"xe":6.6,"ye":5.86,"ang":42,"k":"o"},{"x":6.84,"y":6.05,"xe":7.4,"ye":6.65,"ang":43,"k":"o"},{"x":7.63,"y":6.84,"xe":8.2,"ye":7.44,"ang":44,"k":"o"},{"x":8.42,"y":7.63,"xe":9,"ye":8.23,"ang":44,"k":"o"},{"x":9.21,"y":8.42,"xe":9.8,"ye":9.02,"ang":45,"k":"o"},{"x":10,"y":9.21,"xe":10.6,"ye":9.81,"ang":45,"k":"o"}
],
"dm":[
{"x":-5,"y":-3.42,"xe":-4.15,"ye":-2.67,"ang":49,"k":"m"},{"x":-4.21,"y":-2.63,"xe":-3.36,"ye":-1.88,"ang":49,"k":"m"},{"x":-3.42,"y":-1.84,"xe":-2.57,"ye":-1.09,"ang":49,"k":"m"},{"x":-2.63,"y":-1.05,"xe":-1.78,"ye":-0.3,"ang":49,"k":"m"},{"x":-1.84,"y":-0.26,"xe":-0.99,"ye":0.49,"ang":49,"k":"m"},{"x":-1.05,"y":0.53,"xe":-0.2,"ye":1.28,"ang":49,"k":"m"},{"x":-0.26,"y":1.32,"xe":0.59,"ye":2.07,"ang":49,"k":"m"},{"x":0.53,"y":2.11,"xe":1.38,"ye":2.86,"ang":49,"k":"m"},{"x":1.32,"y":2.89,"xe":2.17,"ye":3.64,"ang":49,"k":"m"},{"x":2.11,"y":3.68,"xe":2.96,"ye":4.43,"ang":49,"k":"m"},{"x":2.89,"y":4.47,"xe":3.74,"ye":5.22,"ang":49,"k":"m"},{"x":3.68,"y":5.26,"xe":4.53,"ye":6.01,"ang":49,"k":"m"},{"x":4.47,"y":6.05,"xe":5.32,"ye":6.8,"ang":49,"k":"m"},{"x":5.26,"y":6.84,"xe":6.11,"ye":7.59,"ang":49,"k":"m"},{"x":6.05,"y":7.63,"xe":6.9,"ye":8.38,"ang":49,"k":"m"},{"x":6.84,"y":8.42,"xe":7.69,"ye":9.17,"ang":49,"k":"m"},{"x":7.63,"y":9.21,"xe":8.48,"ye":9.96,"ang":49,"k":"m"},{"x":8.42,"y":10,"xe":9.27,"ye":10.75,"ang":49,"k":"m"},
{"x":-5,"y":-4.21,"xe":-4.22,"ye":-3.53,"ang":49,"k":"m"},{"x":-4.21,"y":-3.42,"xe":-3.43,"ye":-2.74,"ang":49,"k":"m"},{"x":-3.42,"y":-2.63,"xe":-2.64,"ye":-1.95,"ang":49,"k":"m"},{"x":-2.63,"y":-1.84,"xe":-1.85,"ye":-1.16,"ang":49,"k":"m"},{"x":-1.84,"y":-1.05,"xe":-1.06,"ye":-0.37,"ang":49,"k":"m"},{"x":-1.05,"y":-0.26,"xe":-0.27,"ye":0.42,"ang":49,"k":"m"},{"x":-0.26,"y":0.53,"xe":0.52,"ye":1.21,"ang":49,"k":"m"},{"x":0.53,"y":1.32,"xe":1.31,"ye":2,"ang":49,"k":"m"},{"x":1.32,"y":2.11,"xe":2.1,"ye":2.79,"ang":49,"k":"m"},{"x":2.11,"y":2.89,"xe":2.89,"ye":3.57,"ang":49,"k":"m"},{"x":2.89,"y":3.68,"xe":3.67,"ye":4.36,"ang":49,"k":"m"},{"x":3.68,"y":4.47,"xe":4.46,"ye":5.15,"ang":49,"k":"m"},{"x":4.47,"y":5.26,"xe":5.25,"ye":5.94,"ang":49,"k":"m"},{"x":5.26,"y":6.05,"xe":6.04,"ye":6.73,"ang":49,"k":"m"},{"x":6.05,"y":6.84,"xe":6.83,"ye":7.52,"ang":49,"k":"m"},{"x":6.84,"y":7.63,"xe":7.62,"ye":8.31,"ang":49,"k":"m"},{"x":7.63,"y":8.42,"xe":8.41,"ye":9.1,"ang":49,"k":"m"},{"x":8.42,"y":9.21,"xe":9.2,"ye":9.89,"ang":49,"k":"m"},{"x":9.21,"y":10,"xe":9.99,"ye":10.68,"ang":49,"k":"m"},
{"x":-5,"y":-5,"xe":-4.32,"ye":-4.4,"ang":49,"k":"m"},{"x":-4.21,"y":-4.21,"xe":-3.53,"ye":-3.61,"ang":49,"k":"m"},{"x":-3.42,"y":-3.42,"xe":-2.74,"ye":-2.82,"ang":49,"k":"m"},{"x":-2.63,"y":-2.63,"xe":-1.95,"ye":-2.03,"ang":49,"k":"m"},{"x":-1.84,"y":-1.84,"xe":-1.16,"ye":-1.24,"ang":49,"k":"m"},{"x":-1.05,"y":-1.05,"xe":-0.37,"ye":-0.45,"ang":49,"k":"m"},{"x":-0.26,"y":-0.26,"xe":0.42,"ye":0.34,"ang":49,"k":"m"},{"x":0.53,"y":0.53,"xe":1.21,"ye":1.13,"ang":49,"k":"m"},{"x":1.32,"y":1.32,"xe":2,"ye":1.92,"ang":49,"k":"m"},{"x":2.11,"y":2.11,"xe":2.79,"ye":2.71,"ang":49,"k":"m"},{"x":2.89,"y":2.89,"xe":3.57,"ye":3.49,"ang":49,"k":"m"},{"x":3.68,"y":3.68,"xe":4.36,"ye":4.28,"ang":49,"k":"m"},{"x":4.47,"y":4.47,"xe":5.15,"ye":5.07,"ang":49,"k":"m"},{"x":5.26,"y":5.26,"xe":5.94,"ye":5.86,"ang":49,"k":"m"},{"x":6.05,"y":6.05,"xe":6.73,"ye":6.65,"ang":49,"k":"m"},{"x":6.84,"y":6.84,"xe":7.52,"ye":7.44,"ang":49,"k":"m"},{"x":7.63,"y":7.63,"xe":8.31,"ye":8.23,"ang":49,"k":"m"},{"x":8.42,"y":8.42,"xe":9.1,"ye":9.02,"ang":49,"k":"m"},{"x":9.21,"y":9.21,"xe":9.89,"ye":9.81,"ang":49,"k":"m"},{"x":10,"y":10,"xe":10.68,"ye":10.6,"ang":49,"k":"m"},
{"x":-4.21,"y":-5,"xe":-3.66,"ye":-4.5,"ang":48,"k":"m"},{"x":-3.42,"y":-4.21,"xe":-2.87,"ye":-3.71,"ang":48,"k":"m"},{"x":-2.63,"y":-3.42,"xe":-2.08,"ye":-2.92,"ang":48,"k":"m"},{"x":-1.84,"y":-2.63,"xe":-1.29,"ye":-2.13,"ang":48,"k":"m"},{"x":-1.05,"y":-1.84,"xe":-0.5,"ye":-1.34,"ang":48,"k":"m"},{"x":-0.26,"y":-1.05,"xe":0.29,"ye":-0.55,"ang":48,"k":"m"},{"x":0.53,"y":-0.26,"xe":1.08,"ye":0.24,"ang":48,"k":"m"},{"x":1.32,"y":0.53,"xe":1.87,"ye":1.03,"ang":48,"k":"m"},{"x":2.11,"y":1.32,"xe":2.66,"ye":1.82,"ang":48,"k":"m"},{"x":2.89,"y":2.11,"xe":3.44,"ye":2.61,"ang":48,"k":"m"},{"x":3.68,"y":2.89,"xe":4.23,"ye":3.39,"ang":48,"k":"m"},{"x":4.47,"y":3.68,"xe":5.02,"ye":4.18,"ang":48,"k":"m"},{"x":5.26,"y":4.47,"xe":5.81,"ye":4.97,"ang":48,"k":"m"},{"x":6.05,"y":5.26,"xe":6.6,"ye":5.76,"ang":48,"k":"m"},{"x":6.84,"y":6.05,"xe":7.39,"ye":6.55,"ang":48,"k":"m"},{"x":7.63,"y":6.84,"xe":8.18,"ye":7.34,"ang":48,"k":"m"},{"x":8.42,"y":7.63,"xe":8.97,"ye":8.13,"ang":48,"k":"m"},{"x":9.21,"y":8.42,"xe":9.76,"ye":8.92,"ang":48,"k":"m"},{"x":10,"y":9.21,"xe":10.55,"ye":9.71,"ang":48,"k":"m"},
{"x":-3.42,"y":-5,"xe":-3,"ye":-4.61,"ang":46,"k":"m"},{"x":-2.63,"y":-4.21,"xe":-2.21,"ye":-3.82,"ang":46,"k":"m"},{"x":-1.84,"y":-3.42,"xe":-1.42,"ye":-3.03,"ang":46,"k":"m"},{"x":-1.05,"y":-2.63,"xe":-0.63,"ye":-2.24,"ang":46,"k":"m"},{"x":-0.26,"y":-1.84,"xe":0.16,"ye":-1.45,"ang":46,"k":"m"},{"x":0.53,"y":-1.05,"xe":0.95,"ye":-0.66,"ang":46,"k":"m"},{"x":1.32,"y":-0.26,"xe":1.74,"ye":0.13,"ang":47,"k":"m"},{"x":2.11,"y":0.53,"xe":2.53,"ye":0.92,"ang":47,"k":"m"},{"x":2.89,"y":1.32,"xe":3.31,"ye":1.71,"ang":47,"k":"m"},{"x":3.68,"y":2.11,"xe":4.1,"ye":2.5,"ang":47,"k":"m"},{"x":4.47,"y":2.89,"xe":4.89,"ye":3.28,"ang":47,"k":"m"},{"x":5.26,"y":3.68,"xe":5.68,"ye":4.07,"ang":47,"k":"m"},{"x":6.05,"y":4.47,"xe":6.47,"ye":4.86,"ang":47,"k":"m"},{"x":6.84,"y":5.26,"xe":7.26,"ye":5.65,"ang":47,"k":"m"},{"x":7.63,"y":6.05,"xe":8.05,"ye":6.44,"ang":47,"k":"m"},{"x":8.42,"y":6.84,"xe":8.84,"ye":7.23,"ang":47,"k":"m"},{"x":9.21,"y":7.63,"xe":9.63,"ye":8.02,"ang":47,"k":"m"},{"x":10,"y":8.42,"xe":10.42,"ye":8.81,"ang":47,"k":"m"},
{"x":-2.63,"y":-5,"xe":-2.38,"ye":-4.72,"ang":40,"k":"m"},{"x":-1.84,"y":-4.21,"xe":-1.58,"ye":-3.93,"ang":41,"k":"m"},{"x":-1.05,"y":-3.42,"xe":-0.78,"ye":-3.14,"ang":42,"k":"m"},{"x":-0.26,"y":-2.63,"xe":0.02,"ye":-2.35,"ang":43,"k":"m"},{"x":0.53,"y":-1.84,"xe":0.81,"ye":-1.55,"ang":44,"k":"m"},{"x":1.32,"y":-1.05,"xe":1.61,"ye":-0.76,"ang":45,"k":"m"},{"x":2.11,"y":-0.26,"xe":2.4,"ye":0.03,"ang":45,"k":"m"},{"x":2.89,"y":0.53,"xe":3.18,"ye":0.82,"ang":45,"k":"m"},{"x":3.68,"y":1.32,"xe":3.97,"ye":1.61,"ang":45,"k":"m"},{"x":4.47,"y":2.11,"xe":4.76,"ye":2.4,"ang":45,"k":"m"},{"x":5.26,"y":2.89,"xe":5.55,"ye":3.18,"ang":45,"k":"m"},{"x":6.05,"y":3.68,"xe":6.35,"ye":3.97,"ang":46,"k":"m"},{"x":6.84,"y":4.47,"xe":7.14,"ye":4.76,"ang":46,"k":"m"},{"x":7.63,"y":5.26,"xe":7.94,"ye":5.55,"ang":47,"k":"m"},{"x":8.42,"y":6.05,"xe":8.73,"ye":6.34,"ang":47,"k":"m"},{"x":9.21,"y":6.84,"xe":9.53,"ye":7.13,"ang":47,"k":"m"},{"x":10,"y":7.63,"xe":10.33,"ye":7.93,"ang":47,"k":"m"},
{"x":-1.84,"y":-5,"xe":-1.69,"ye":-4.8,"ang":37,"k":"h"}
],
"e":[
{"x":-5,"y":10,"xe":-5.72,"ye":8.92,"ang":214,"k":"r"},{"x":-4.21,"y":10,"xe":-4.87,"ye":8.98,"ang":213,"k":"r"},{"x":-3.42,"y":10,"xe":-4.01,"ye":9.04,"ang":212,"k":"r"},{"x":-2.63,"y":10,"xe":-3.16,"ye":9.1,"ang":210,"k":"r"},{"x":-1.84,"y":10,"xe":-2.31,"ye":9.16,"ang":209,"k":"r"},{"x":-1.05,"y":10,"xe":-1.45,"ye":9.22,"ang":207,"k":"r"},{"x":-0.26,"y":10,"xe":-0.6,"ye":9.28,"ang":205,"k":"r"},{"x":0.53,"y":10,"xe":0.25,"ye":9.34,"ang":203,"k":"r"},{"x":1.32,"y":10,"xe":1.11,"ye":9.4,"ang":199,"k":"r"},{"x":2.11,"y":10,"xe":1.96,"ye":9.46,"ang":196,"k":"r"},{"x":2.89,"y":10,"xe":2.8,"ye":9.52,"ang":191,"k":"r"},{"x":3.68,"y":10,"xe":3.65,"ye":9.58,"ang":184,"k":"r"},{"x":4.47,"y":10,"xe":4.51,"ye":9.64,"ang":174,"k":"r"},{"x":5.26,"y":10,"xe":5.36,"ye":9.69,"ang":162,"k":"r"},{"x":6.05,"y":10,"xe":6.21,"ye":9.75,"ang":147,"k":"s"},{"x":6.84,"y":10,"xe":7.07,"ye":9.81,"ang":130,"k":"s"},{"x":7.63,"y":10,"xe":7.92,"ye":9.87,"ang":114,"k":"r"},{"x":8.42,"y":10,"xe":8.77,"ye":9.93,"ang":101,"k":"r"},{"x":9.21,"y":10,"xe":9.63,"ye":9.99,"ang":91,"k":"r"},{"x":10,"y":10,"xe":10.48,"ye":10.05,"ang":84,"k":"r"},
{"x":-5,"y":9.21,"xe":-5.66,"ye":8.31,"ang":216,"k":"r"},{"x":-4.21,"y":9.21,"xe":-4.81,"ye":8.36,"ang":215,"k":"r"},{"x":-3.42,"y":9.21,"xe":-3.95,"ye":8.42,"ang":214,"k":"r"},{"x":-2.63,"y":9.21,"xe":-3.1,"ye":8.48,"ang":213,"k":"r"},{"x":-1.84,"y":9.21,"xe":-2.25,"ye":8.54,"ang":211,"k":"r"},{"x":-1.05,"y":9.21,"xe":-1.39,"ye":8.6,"ang":209,"k":"r"},{"x":-0.26,"y":9.21,"xe":-0.54,"ye":8.66,"ang":207,"k":"r"},{"x":0.53,"y":9.21,"xe":0.31,"ye":8.72,"ang":204,"k":"r"},{"x":1.32,"y":9.21,"xe":1.17,"ye":8.78,"ang":199,"k":"r"},{"x":2.11,"y":9.21,"xe":2.02,"ye":8.84,"ang":194,"k":"r"},{"x":2.89,"y":9.21,"xe":2.86,"ye":8.9,"ang":186,"k":"r"},{"x":3.68,"y":9.21,"xe":3.71,"ye":8.96,"ang":173,"k":"s"},{"x":4.47,"y":9.21,"xe":4.57,"ye":9.02,"ang":152,"k":"s"},{"x":5.26,"y":9.21,"xe":5.42,"ye":9.07,"ang":131,"k":"s"},{"x":6.05,"y":9.21,"xe":6.27,"ye":9.13,"ang":110,"k":"s"},{"x":6.84,"y":9.21,"xe":7.13,"ye":9.19,"ang":94,"k":"s"},{"x":7.63,"y":9.21,"xe":7.98,"ye":9.25,"ang":83,"k":"r"},{"x":8.42,"y":9.21,"xe":8.83,"ye":9.31,"ang":76,"k":"r"},{"x":9.21,"y":9.21,"xe":9.69,"ye":9.37,"ang":72,"k":"r"},{"x":10,"y":9.21,"xe":10.54,"ye":9.43,"ang":68,"k":"r"},
{"x":-5,"y":8.42,"xe":-5.59,"ye":7.7,"ang":219,"k":"r"},{"x":-4.21,"y":8.42,"xe":-4.74,"ye":7.75,"ang":218,"k":"r"},{"x":-3.42,"y":8.42,"xe":-3.88,"ye":7.81,"ang":217,"k":"r"},{"x":-2.63,"y":8.42,"xe":-3.03,"ye":7.87,"ang":216,"k":"r"},{"x":-1.84,"y":8.42,"xe":-2.18,"ye":7.93,"ang":215,"k":"r"},{"x":-1.05,"y":8.42,"xe":-1.32,"ye":7.99,"ang":212,"k":"r"},{"x":-0.26,"y":8.42,"xe":-0.47,"ye":8.05,"ang":210,"k":"r"},{"x":0.53,"y":8.42,"xe":0.38,"ye":8.11,"ang":206,"k":"r"},{"x":1.32,"y":8.42,"xe":1.24,"ye":8.17,"ang":198,"k":"s"},{"x":2.11,"y":8.42,"xe":2.09,"ye":8.23,"ang":186,"k":"s"},{"x":2.89,"y":8.42,"xe":2.93,"ye":8.29,"ang":163,"k":"s"},{"x":3.68,"y":8.42,"xe":3.78,"ye":8.35,"ang":125,"k":"t"},{"x":4.47,"y":8.42,"xe":4.64,"ye":8.41,"ang":93,"k":"s"},{"x":5.26,"y":8.42,"xe":5.49,"ye":8.46,"ang":80,"k":"s"},{"x":6.05,"y":8.42,"xe":6.34,"ye":8.52,"ang":71,"k":"r"},{"x":6.84,"y":8.42,"xe":7.2,"ye":8.58,"ang":66,"k":"r"},{"x":7.63,"y":8.42,"xe":8.05,"ye":8.64,"ang":62,"k":"r"},{"x":8.42,"y":8.42,"xe":8.9,"ye":8.7,"ang":60,"k":"r"},{"x":9.21,"y":8.42,"xe":9.76,"ye":8.76,"ang":58,"k":"r"},{"x":10,"y":8.42,"xe":10.61,"ye":8.82,"ang":57,"k":"r"},
{"x":-5,"y":7.63,"xe":-5.53,"ye":7.08,"ang":224,"k":"r"},{"x":-4.21,"y":7.63,"xe":-4.68,"ye":7.13,"ang":223,"k":"r"},{"x":-3.42,"y":7.63,"xe":-3.82,"ye":7.19,"ang":222,"k":"r"},{"x":-2.63,"y":7.63,"xe":-2.97,"ye":7.25,"ang":222,"k":"r"},{"x":-1.84,"y":7.63,"xe":-2.12,"ye":7.31,"ang":221,"k":"r"},{"x":-1.05,"y":7.63,"xe":-1.26,"ye":7.37,"ang":219,"k":"r"},{"x":-0.26,"y":7.63,"xe":-0.41,"ye":7.43,"ang":217,"k":"s"},{"x":0.53,"y":7.63,"xe":0.44,"ye":7.49,"ang":213,"k":"s"},{"x":1.32,"y":7.63,"xe":1.3,"ye":7.55,"ang":194,"k":"t"},{"x":2.11,"y":7.63,"xe":2.15,"ye":7.61,"ang":117,"k":"t"},{"x":2.89,"y":7.63,"xe":2.99,"ye":7.67,"ang":68,"k":"t"},{"x":3.68,"y":7.63,"xe":3.84,"ye":7.73,"ang":58,"k":"s"},{"x":4.47,"y":7.63,"xe":4.7,"ye":7.79,"ang":55,"k":"s"},{"x":5.26,"y":7.63,"xe":5.55,"ye":7.84,"ang":54,"k":"r"},{"x":6.05,"y":7.63,"xe":6.4,"ye":7.9,"ang":52,"k":"r"},{"x":6.84,"y":7.63,"xe":7.26,"ye":7.96,"ang":52,"k":"r"},{"x":7.63,"y":7.63,"xe":8.11,"ye":8.02,"ang":51,"k":"r"},{"x":8.42,"y":7.63,"xe":8.96,"ye":8.08,"ang":50,"k":"r"},{"x":9.21,"y":7.63,"xe":9.82,"ye":8.14,"ang":50,"k":"r"},{"x":10,"y":7.63,"xe":10.67,"ye":8.2,"ang":50,"k":"r"},
{"x":-5,"y":6.84,"xe":-5.47,"ye":6.47,"ang":231,"k":"r"},{"x":-4.21,"y":6.84,"xe":-4.62,"ye":6.52,"ang":232,"k":"r"},{"x":-3.42,"y":6.84,"xe":-3.76,"ye":6.58,"ang":233,"k":"r"},{"x":-2.63,"y":6.84,"xe":-2.91,"ye":6.64,"ang":234,"k":"r"},{"x":-1.84,"y":6.84,"xe":-2.06,"ye":6.7,"ang":238,"k":"s"},{"x":-1.05,"y":6.84,"xe":-1.2,"ye":6.76,"ang":242,"k":"s"},{"x":-0.26,"y":6.84,"xe":-0.35,"ye":6.82,"ang":257,"k":"t"},{"x":0.53,"y":6.84,"xe":0.5,"ye":6.88,"ang":323,"k":"t"},{"x":1.32,"y":6.84,"xe":1.36,"ye":6.94,"ang":22,"k":"t"},{"x":2.11,"y":6.84,"xe":2.21,"ye":7,"ang":32,"k":"s"},{"x":2.89,"y":6.84,"xe":3.05,"ye":7.06,"ang":36,"k":"s"},{"x":3.68,"y":6.84,"xe":3.9,"ye":7.12,"ang":38,"k":"r"},{"x":4.47,"y":6.84,"xe":4.76,"ye":7.18,"ang":40,"k":"r"},{"x":5.26,"y":6.84,"xe":5.61,"ye":7.23,"ang":42,"k":"r"},{"x":6.05,"y":6.84,"xe":6.46,"ye":7.29,"ang":42,"k":"r"},{"x":6.84,"y":6.84,"xe":7.32,"ye":7.35,"ang":43,"k":"r"},{"x":7.63,"y":6.84,"xe":8.17,"ye":7.41,"ang":43,"k":"r"},{"x":8.42,"y":6.84,"xe":9.02,"ye":7.47,"ang":44,"k":"r"},
{"x":-5,"y":6.05,"xe":-5.4,"ye":5.85,"ang":243,"k":"r"},{"x":-4.21,"y":6.05,"xe":-4.55,"ye":5.9,"ang":246,"k":"r"},{"x":-3.42,"y":6.05,"xe":-3.69,"ye":5.96,"ang":252,"k":"s"},{"x":-2.63,"y":6.05,"xe":-2.84,"ye":6.02,"ang":262,"k":"s"},{"x":-1.84,"y":6.05,"xe":-1.99,"ye":6.08,"ang":281,"k":"s"},{"x":-1.05,"y":6.05,"xe":-1.13,"ye":6.14,"ang":318,"k":"t"},{"x":-0.26,"y":6.05,"xe":-0.28,"ye":6.2,"ang":352,"k":"s"},{"x":0.53,"y":6.05,"xe":0.57,"ye":6.26,"ang":11,"k":"s"},{"x":1.32,"y":6.05,"xe":1.43,"ye":6.32,"ang":22,"k":"s"},{"x":2.11,"y":6.05,"xe":2.28,"ye":6.38,"ang":27,"k":"r"},{"x":2.89,"y":6.05,"xe":3.12,"ye":6.44,"ang":31,"k":"r"},{"x":3.68,"y":6.05,"xe":3.97,"ye":6.5,"ang":33,"k":"r"},{"x":4.47,"y":6.05,"xe":4.83,"ye":6.56,"ang":35,"k":"r"},{"x":5.26,"y":6.05,"xe":5.68,"ye":6.61,"ang":37,"k":"r"},{"x":6.05,"y":6.05,"xe":6.53,"ye":6.67,"ang":38,"k":"r"},{"x":6.84,"y":6.05,"xe":7.39,"ye":6.73,"ang":39,"k":"r"},
{"x":-5,"y":5.26,"xe":-5.34,"ye":5.23,"ang":264,"k":"r"},{"x":-4.21,"y":5.26,"xe":-4.49,"ye":5.28,"ang":274,"k":"s"},{"x":-3.42,"y":5.26,"xe":-3.63,"ye":5.34,"ang":291,"k":"s"},{"x":-2.63,"y":5.26,"xe":-2.78,"ye":5.4,"ang":313,"k":"s"},{"x":-1.84,"y":5.26,"xe":-1.93,"ye":5.46,"ang":336,"k":"s"},{"x":-1.05,"y":5.26,"xe":-1.07,"ye":5.52,"ang":356,"k":"s"},{"x":-0.26,"y":5.26,"xe":-0.22,"ye":5.58,"ang":7,"k":"r"},{"x":0.53,"y":5.26,"xe":0.63,"ye":5.64,"ang":15,"k":"r"},{"x":1.32,"y":5.26,"xe":1.49,"ye":5.7,"ang":21,"k":"r"},{"x":2.11,"y":5.26,"xe":2.34,"ye":5.76,"ang":25,"k":"r"},{"x":2.89,"y":5.26,"xe":3.18,"ye":5.82,"ang":27,"k":"r"},{"x":3.68,"y":5.26,"xe":4.03,"ye":5.88,"ang":29,"k":"r"},{"x":4.47,"y":5.26,"xe":4.89,"ye":5.94,"ang":32,"k":"r"},
{"x":-5,"y":4.47,"xe":-5.28,"ye":4.62,"ang":297,"k":"r"},{"x":-4.21,"y":4.47,"xe":-4.43,"ye":4.67,"ang":312,"k":"r"},{"x":-3.42,"y":4.47,"xe":-3.57,"ye":4.73,"ang":330,"k":"r"},{"x":-2.63,"y":4.47,"xe":-2.72,"ye":4.79,"ang":344,"k":"r"},{"x":-1.84,"y":4.47,"xe":-1.87,"ye":4.85,"ang":355,"k":"r"},{"x":-1.05,"y":4.47,"xe":-1.01,"ye":4.91,"ang":5,"k":"r"},{"x":-0.26,"y":4.47,"xe":-0.16,"ye":4.97,"ang":11,"k":"r"},{"x":0.53,"y":4.47,"xe":0.69,"ye":5.03,"ang":16,"k":"r"},{"x":1.32,"y":4.47,"xe":1.55,"ye":5.09,"ang":20,"k":"r"},{"x":2.11,"y":4.47,"xe":2.4,"ye":5.15,"ang":23,"k":"r"},{"x":2.89,"y":4.47,"xe":3.24,"ye":5.21,"ang":25,"k":"r"},
{"x":-5,"y":3.68,"xe":-5.21,"ye":4,"ang":326,"k":"r"},{"x":-4.21,"y":3.68,"xe":-4.36,"ye":4.05,"ang":338,"k":"r"},{"x":-3.42,"y":3.68,"xe":-3.5,"ye":4.11,"ang":349,"k":"r"},{"x":-2.63,"y":3.68,"xe":-2.65,"ye":4.17,"ang":358,"k":"r"},{"x":-1.84,"y":3.68,"xe":-1.8,"ye":4.23,"ang":4,"k":"r"},{"x":-1.05,"y":3.68,"xe":-0.94,"ye":4.29,"ang":10,"k":"r"},{"x":-0.26,"y":3.68,"xe":-0.09,"ye":4.35,"ang":14,"k":"r"},{"x":0.53,"y":3.68,"xe":0.76,"ye":4.41,"ang":17,"k":"r"},{"x":1.32,"y":3.68,"xe":1.62,"ye":4.47,"ang":21,"k":"r"},
{"x":-5,"y":2.89,"xe":-5.15,"ye":3.38,"ang":343,"k":"r"},{"x":-4.21,"y":2.89,"xe":-4.3,"ye":3.43,"ang":351,"k":"r"},{"x":-3.42,"y":2.89,"xe":-3.44,"ye":3.49,"ang":358,"k":"r"},{"x":-2.63,"y":2.89,"xe":-2.59,"ye":3.55,"ang":3,"k":"r"},{"x":-1.84,"y":2.89,"xe":-1.74,"ye":3.61,"ang":8,"k":"r"},{"x":-1.05,"y":2.89,"xe":-0.88,"ye":3.67,"ang":12,"k":"r"},{"x":-0.26,"y":2.89,"xe":-0.03,"ye":3.73,"ang":15,"k":"r"},
{"x":-5,"y":2.11,"xe":-5.09,"ye":2.78,"ang":352,"k":"r"},{"x":-4.21,"y":2.11,"xe":-4.24,"ye":2.83,"ang":358,"k":"r"},{"x":-3.42,"y":2.11,"xe":-3.38,"ye":2.89,"ang":3,"k":"r"},{"x":-2.63,"y":2.11,"xe":-2.53,"ye":2.95,"ang":7,"k":"r"},{"x":-1.84,"y":2.11,"xe":-1.68,"ye":3.01,"ang":10,"k":"r"},
{"x":-5,"y":1.32,"xe":-5.03,"ye":2.16,"ang":358,"k":"r"},{"x":-4.21,"y":1.32,"xe":-4.18,"ye":2.21,"ang":2,"k":"r"},{"x":-3.42,"y":1.32,"xe":-3.32,"ye":2.27,"ang":6,"k":"r"},
{"x":-5,"y":0.53,"xe":-4.96,"ye":1.53,"ang":2,"k":"r"},
{"x":9.21,"y":6.84,"xe":9.39,"ye":6.72,"ang":124,"k":"c"},{"x":10,"y":6.84,"xe":10.1,"ye":6.64,"ang":153,"k":"c"},
{"x":7.63,"y":6.05,"xe":7.9,"ye":6.05,"ang":90,"k":"c"},{"x":8.42,"y":6.05,"xe":8.61,"ye":5.97,"ang":113,"k":"c"},{"x":9.21,"y":6.05,"xe":9.32,"ye":5.9,"ang":144,"k":"c"},{"x":10,"y":6.05,"xe":10.03,"ye":5.82,"ang":173,"k":"c"},
{"x":5.26,"y":5.26,"xe":5.7,"ye":5.46,"ang":66,"k":"b"},{"x":6.05,"y":5.26,"xe":6.41,"ye":5.38,"ang":72,"k":"b"},{"x":6.84,"y":5.26,"xe":7.12,"ye":5.31,"ang":80,"k":"c"},{"x":7.63,"y":5.26,"xe":7.83,"ye":5.23,"ang":99,"k":"c"},{"x":8.42,"y":5.26,"xe":8.54,"ye":5.15,"ang":133,"k":"c"},{"x":9.21,"y":5.26,"xe":9.25,"ye":5.08,"ang":167,"k":"c"},{"x":10,"y":5.26,"xe":9.96,"ye":5,"ang":189,"k":"c"},
{"x":3.68,"y":4.47,"xe":4.21,"ye":4.79,"ang":59,"k":"b"},{"x":4.47,"y":4.47,"xe":4.93,"ye":4.72,"ang":61,"k":"b"},{"x":5.26,"y":4.47,"xe":5.64,"ye":4.64,"ang":66,"k":"b"},{"x":6.05,"y":4.47,"xe":6.35,"ye":4.56,"ang":73,"k":"b"},{"x":6.84,"y":4.47,"xe":7.06,"ye":4.49,"ang":85,"k":"c"},{"x":7.63,"y":4.47,"xe":7.77,"ye":4.41,"ang":113,"k":"c"},{"x":8.42,"y":4.47,"xe":8.48,"ye":4.33,"ang":157,"k":"c"},{"x":9.21,"y":4.47,"xe":9.19,"ye":4.26,"ang":185,"k":"c"},{"x":10,"y":4.47,"xe":9.9,"ye":4.18,"ang":199,"k":"b"},
{"x":2.11,"y":3.68,"xe":2.73,"ye":4.12,"ang":54,"k":"b"},{"x":2.89,"y":3.68,"xe":3.43,"ye":4.05,"ang":56,"k":"b"},{"x":3.68,"y":3.68,"xe":4.14,"ye":3.97,"ang":58,"k":"b"},{"x":4.47,"y":3.68,"xe":4.86,"ye":3.9,"ang":61,"k":"b"},{"x":5.26,"y":3.68,"xe":5.57,"ye":3.82,"ang":66,"k":"b"},{"x":6.05,"y":3.68,"xe":6.28,"ye":3.74,"ang":75,"k":"c"},{"x":6.84,"y":3.68,"xe":6.99,"ye":3.67,"ang":94,"k":"c"},{"x":7.63,"y":3.68,"xe":7.7,"ye":3.59,"ang":142,"k":"d"},{"x":8.42,"y":3.68,"xe":8.41,"ye":3.51,"ang":183,"k":"c"},{"x":9.21,"y":3.68,"xe":9.12,"ye":3.44,"ang":201,"k":"c"},{"x":10,"y":3.68,"xe":9.83,"ye":3.36,"ang":208,"k":"b"},
{"x":0.53,"y":2.89,"xe":1.24,"ye":3.46,"ang":51,"k":"b"},{"x":1.32,"y":2.89,"xe":1.95,"ye":3.38,"ang":52,"k":"b"},{"x":2.11,"y":2.89,"xe":2.66,"ye":3.31,"ang":53,"k":"b"},{"x":2.89,"y":2.89,"xe":3.36,"ye":3.23,"ang":54,"k":"b"},{"x":3.68,"y":2.89,"xe":4.07,"ye":3.15,"ang":56,"k":"b"},{"x":4.47,"y":2.89,"xe":4.79,"ye":3.08,"ang":59,"k":"b"},{"x":5.26,"y":2.89,"xe":5.5,"ye":3,"ang":65,"k":"c"},{"x":6.05,"y":2.89,"xe":6.21,"ye":2.92,"ang":79,"k":"c"},{"x":6.84,"y":2.89,"xe":6.92,"ye":2.85,"ang":117,"k":"d"},{"x":7.63,"y":2.89,"xe":7.63,"ye":2.77,"ang":180,"k":"d"},{"x":8.42,"y":2.89,"xe":8.34,"ye":2.69,"ang":202,"k":"c"},{"x":9.21,"y":2.89,"xe":9.05,"ye":2.62,"ang":211,"k":"b"},{"x":10,"y":2.89,"xe":9.76,"ye":2.54,"ang":214,"k":"b"},
{"x":-1.05,"y":2.11,"xe":-0.24,"ye":2.8,"ang":50,"k":"b"},{"x":-0.26,"y":2.11,"xe":0.47,"ye":2.73,"ang":50,"k":"b"},{"x":0.53,"y":2.11,"xe":1.18,"ye":2.65,"ang":50,"k":"b"},{"x":1.32,"y":2.11,"xe":1.89,"ye":2.57,"ang":51,"k":"b"},{"x":2.11,"y":2.11,"xe":2.6,"ye":2.5,"ang":52,"k":"b"},{"x":2.89,"y":2.11,"xe":3.3,"ye":2.42,"ang":53,"k":"b"},{"x":3.68,"y":2.11,"xe":4.01,"ye":2.34,"ang":55,"k":"b"},{"x":4.47,"y":2.11,"xe":4.73,"ye":2.27,"ang":58,"k":"c"},{"x":5.26,"y":2.11,"xe":5.44,"ye":2.19,"ang":66,"k":"c"},{"x":6.05,"y":2.11,"xe":6.15,"ye":2.11,"ang":90,"k":"d"},{"x":6.84,"y":2.11,"xe":6.86,"ye":2.04,"ang":164,"k":"d"},{"x":7.63,"y":2.11,"xe":7.57,"ye":1.96,"ang":202,"k":"c"},{"x":8.42,"y":2.11,"xe":8.28,"ye":1.88,"ang":211,"k":"c"},{"x":9.21,"y":2.11,"xe":8.99,"ye":1.81,"ang":216,"k":"b"},{"x":10,"y":2.11,"xe":9.7,"ye":1.73,"ang":218,"k":"b"},
{"x":-2.63,"y":1.32,"xe":-1.73,"ye":2.13,"ang":48,"k":"b"},{"x":-1.84,"y":1.32,"xe":-1.02,"ye":2.06,"ang":48,"k":"b"},{"x":-1.05,"y":1.32,"xe":-0.31,"ye":1.98,"ang":48,"k":"b"},{"x":-0.26,"y":1.32,"xe":0.4,"ye":1.9,"ang":48,"k":"b"},{"x":0.53,"y":1.32,"xe":1.11,"ye":1.83,"ang":49,"k":"b"},{"x":1.32,"y":1.32,"xe":1.82,"ye":1.75,"ang":49,"k":"b"},{"x":2.11,"y":1.32,"xe":2.53,"ye":1.68,"ang":50,"k":"b"},{"x":2.89,"y":1.32,"xe":3.23,"ye":1.6,"ang":50,"k":"b"},{"x":3.68,"y":1.32,"xe":3.94,"ye":1.52,"ang":52,"k":"c"},{"x":4.47,"y":1.32,"xe":4.66,"ye":1.45,"ang":56,"k":"c"},{"x":5.26,"y":1.32,"xe":5.37,"ye":1.37,"ang":66,"k":"d"},{"x":6.05,"y":1.32,"xe":6.08,"ye":1.29,"ang":135,"k":"d"},{"x":6.84,"y":1.32,"xe":6.79,"ye":1.22,"ang":207,"k":"d"},{"x":7.63,"y":1.32,"xe":7.5,"ye":1.14,"ang":216,"k":"c"},{"x":8.42,"y":1.32,"xe":8.21,"ye":1.06,"ang":219,"k":"b"},{"x":9.21,"y":1.32,"xe":8.92,"ye":0.99,"ang":221,"k":"b"},{"x":10,"y":1.32,"xe":9.63,"ye":0.91,"ang":222,"k":"b"},
{"x":-4.21,"y":0.53,"xe":-3.23,"ye":1.47,"ang":46,"k":"b"},{"x":-3.42,"y":0.53,"xe":-2.52,"ye":1.39,"ang":46,"k":"b"},{"x":-2.63,"y":0.53,"xe":-1.81,"ye":1.32,"ang":46,"k":"b"},{"x":-1.84,"y":0.53,"xe":-1.09,"ye":1.24,"ang":47,"k":"b"},{"x":-1.05,"y":0.53,"xe":-0.38,"ye":1.16,"ang":47,"k":"b"},{"x":-0.26,"y":0.53,"xe":0.33,"ye":1.09,"ang":47,"k":"b"},{"x":0.53,"y":0.53,"xe":1.04,"ye":1.01,"ang":47,"k":"b"},{"x":1.32,"y":0.53,"xe":1.75,"ye":0.93,"ang":47,"k":"b"},{"x":2.11,"y":0.53,"xe":2.46,"ye":0.86,"ang":47,"k":"b"},{"x":2.89,"y":0.53,"xe":3.16,"ye":0.78,"ang":47,"k":"b"},{"x":3.68,"y":0.53,"xe":3.87,"ye":0.7,"ang":48,"k":"c"},{"x":4.47,"y":0.53,"xe":4.59,"ye":0.63,"ang":50,"k":"c"},{"x":5.26,"y":0.53,"xe":5.3,"ye":0.55,"ang":63,"k":"d"},{"x":6.05,"y":0.53,"xe":6.01,"ye":0.47,"ang":214,"k":"d"},{"x":6.84,"y":0.53,"xe":6.72,"ye":0.4,"ang":223,"k":"c"},{"x":7.63,"y":0.53,"xe":7.43,"ye":0.32,"ang":224,"k":"c"},{"x":8.42,"y":0.53,"xe":8.14,"ye":0.24,"ang":224,"k":"b"},{"x":9.21,"y":0.53,"xe":8.85,"ye":0.17,"ang":225,"k":"b"},{"x":10,"y":0.53,"xe":9.56,"ye":0.09,"ang":225,"k":"b"},
{"x":-5,"y":-0.26,"xe":-4,"ye":0.72,"ang":45,"k":"b"},{"x":-4.21,"y":-0.26,"xe":-3.29,"ye":0.65,"ang":45,"k":"b"},{"x":-3.42,"y":-0.26,"xe":-2.58,"ye":0.57,"ang":45,"k":"b"},{"x":-2.63,"y":-0.26,"xe":-1.87,"ye":0.5,"ang":45,"k":"b"},{"x":-1.84,"y":-0.26,"xe":-1.15,"ye":0.42,"ang":45,"k":"b"},{"x":-1.05,"y":-0.26,"xe":-0.44,"ye":0.34,"ang":45,"k":"b"},{"x":-0.26,"y":-0.26,"xe":0.27,"ye":0.26,"ang":45,"k":"b"},{"x":0.53,"y":-0.26,"xe":0.98,"ye":0.19,"ang":45,"k":"b"},{"x":1.32,"y":-0.26,"xe":1.69,"ye":0.11,"ang":45,"k":"b"},{"x":2.11,"y":-0.26,"xe":2.4,"ye":0.04,"ang":45,"k":"b"},{"x":2.89,"y":-0.26,"xe":3.1,"ye":-0.04,"ang":44,"k":"b"},{"x":3.68,"y":-0.26,"xe":3.81,"ye":-0.12,"ang":43,"k":"c"},{"x":4.47,"y":-0.26,"xe":4.53,"ye":-0.19,"ang":41,"k":"d"},{"x":5.26,"y":-0.26,"xe":5.24,"ye":-0.27,"ang":243,"k":"d"},{"x":6.05,"y":-0.26,"xe":5.95,"ye":-0.35,"ang":228,"k":"c"},{"x":6.84,"y":-0.26,"xe":6.66,"ye":-0.42,"ang":228,"k":"c"},{"x":7.63,"y":-0.26,"xe":7.37,"ye":-0.5,"ang":227,"k":"c"},{"x":8.42,"y":-0.26,"xe":8.08,"ye":-0.58,"ang":227,"k":"b"},{"x":9.21,"y":-0.26,"xe":8.79,"ye":-0.65,"ang":227,"k":"b"},{"x":10,"y":-0.26,"xe":9.5,"ye":-0.73,"ang":227,"k":"b"},
{"x":-5,"y":-1.05,"xe":-4.07,"ye":-0.1,"ang":44,"k":"b"},{"x":-4.21,"y":-1.05,"xe":-3.36,"ye":-0.17,"ang":44,"k":"b"},{"x":-3.42,"y":-1.05,"xe":-2.65,"ye":-0.25,"ang":44,"k":"b"},{"x":-2.63,"y":-1.05,"xe":-1.94,"ye":-0.33,"ang":44,"k":"b"},{"x":-1.84,"y":-1.05,"xe":-1.22,"ye":-0.4,"ang":44,"k":"b"},{"x":-1.05,"y":-1.05,"xe":-0.51,"ye":-0.48,"ang":43,"k":"b"},{"x":-0.26,"y":-1.05,"xe":0.2,"ye":-0.56,"ang":43,"k":"b"},{"x":0.53,"y":-1.05,"xe":0.91,"ye":-0.63,"ang":42,"k":"b"},{"x":1.32,"y":-1.05,"xe":1.62,"ye":-0.71,"ang":41,"k":"b"},{"x":2.11,"y":-1.05,"xe":2.33,"ye":-0.79,"ang":40,"k":"b"},{"x":2.89,"y":-1.05,"xe":3.03,"ye":-0.86,"ang":36,"k":"c"},{"x":3.68,"y":-1.05,"xe":3.74,"ye":-0.94,"ang":29,"k":"d"},{"x":4.47,"y":-1.05,"xe":4.46,"ye":-1.01,"ang":346,"k":"d"},{"x":5.26,"y":-1.05,"xe":5.17,"ye":-1.09,"ang":246,"k":"d"},{"x":6.05,"y":-1.05,"xe":5.88,"ye":-1.17,"ang":235,"k":"c"},{"x":6.84,"y":-1.05,"xe":6.59,"ye":-1.24,"ang":233,"k":"c"},{"x":7.63,"y":-1.05,"xe":7.3,"ye":-1.32,"ang":231,"k":"b"},{"x":8.42,"y":-1.05,"xe":8.01,"ye":-1.4,"ang":230,"k":"b"},{"x":9.21,"y":-1.05,"xe":8.72,"ye":-1.47,"ang":229,"k":"b"},{"x":10,"y":-1.05,"xe":9.43,"ye":-1.55,"ang":229,"k":"b"},
{"x":-5,"y":-1.84,"xe":-4.14,"ye":-0.92,"ang":43,"k":"b"},{"x":-4.21,"y":-1.84,"xe":-3.43,"ye":-0.99,"ang":43,"k":"b"},{"x":-3.42,"y":-1.84,"xe":-2.72,"ye":-1.07,"ang":42,"k":"b"},{"x":-2.63,"y":-1.84,"xe":-2,"ye":-1.15,"ang":42,"k":"b"},{"x":-1.84,"y":-1.84,"xe":-1.29,"ye":-1.22,"ang":42,"k":"b"},{"x":-1.05,"y":-1.84,"xe":-0.58,"ye":-1.3,"ang":41,"k":"b"},{"x":-0.26,"y":-1.84,"xe":0.13,"ye":-1.38,"ang":40,"k":"b"},{"x":0.53,"y":-1.84,"xe":0.84,"ye":-1.45,"ang":38,"k":"b"},{"x":1.32,"y":-1.84,"xe":1.55,"ye":-1.53,"ang":37,"k":"b"},{"x":2.11,"y":-1.84,"xe":2.26,"ye":-1.6,"ang":33,"k":"c"},{"x":2.89,"y":-1.84,"xe":2.96,"ye":-1.68,"ang":24,"k":"c"},{"x":3.68,"y":-1.84,"xe":3.67,"ye":-1.76,"ang":353,"k":"d"},{"x":4.47,"y":-1.84,"xe":4.39,"ye":-1.83,"ang":277,"k":"d"},{"x":5.26,"y":-1.84,"xe":5.1,"ye":-1.91,"ang":246,"k":"c"},{"x":6.05,"y":-1.84,"xe":5.81,"ye":-1.99,"ang":238,"k":"c"},{"x":6.84,"y":-1.84,"xe":6.52,"ye":-2.06,"ang":235,"k":"b"},{"x":7.63,"y":-1.84,"xe":7.23,"ye":-2.14,"ang":233,"k":"b"},{"x":8.42,"y":-1.84,"xe":7.94,"ye":-2.22,"ang":232,"k":"b"},{"x":9.21,"y":-1.84,"xe":8.65,"ye":-2.29,"ang":231,"k":"b"},{"x":10,"y":-1.84,"xe":9.36,"ye":-2.37,"ang":230,"k":"b"},
{"x":-5,"y":-2.63,"xe":-4.2,"ye":-1.74,"ang":42,"k":"b"},{"x":-4.21,"y":-2.63,"xe":-3.49,"ye":-1.81,"ang":41,"k":"b"},{"x":-3.42,"y":-2.63,"xe":-2.78,"ye":-1.89,"ang":41,"k":"b"},{"x":-2.63,"y":-2.63,"xe":-2.07,"ye":-1.97,"ang":40,"k":"b"},{"x":-1.84,"y":-2.63,"xe":-1.35,"ye":-2.04,"ang":40,"k":"b"},{"x":-1.05,"y":-2.63,"xe":-0.64,"ye":-2.12,"ang":39,"k":"b"},{"x":-0.26,"y":-2.63,"xe":0.07,"ye":-2.2,"ang":37,"k":"b"},{"x":0.53,"y":-2.63,"xe":0.78,"ye":-2.27,"ang":35,"k":"b"},{"x":1.32,"y":-2.63,"xe":1.49,"ye":-2.35,"ang":31,"k":"b"},{"x":2.11,"y":-2.63,"xe":2.2,"ye":-2.43,"ang":24,"k":"c"},{"x":2.89,"y":-2.63,"xe":2.9,"ye":-2.5,"ang":4,"k":"c"},{"x":3.68,"y":-2.63,"xe":3.61,"ye":-2.58,"ang":306,"k":"d"},{"x":4.47,"y":-2.63,"xe":4.33,"ye":-2.65,"ang":262,"k":"c"},{"x":5.26,"y":-2.63,"xe":5.04,"ye":-2.73,"ang":246,"k":"c"},{"x":6.05,"y":-2.63,"xe":5.75,"ye":-2.81,"ang":239,"k":"b"},{"x":6.84,"y":-2.63,"xe":6.46,"ye":-2.88,"ang":237,"k":"b"},{"x":7.63,"y":-2.63,"xe":7.17,"ye":-2.96,"ang":234,"k":"b"},{"x":8.42,"y":-2.63,"xe":7.88,"ye":-3.04,"ang":233,"k":"b"},{"x":9.21,"y":-2.63,"xe":8.59,"ye":-3.11,"ang":232,"k":"b"},{"x":10,"y":-2.63,"xe":9.3,"ye":-3.19,"ang":231,"k":"b"},
{"x":-5,"y":-3.42,"xe":-4.27,"ye":-2.56,"ang":40,"k":"b"},{"x":-4.21,"y":-3.42,"xe":-3.56,"ye":-2.63,"ang":39,"k":"b"},{"x":-3.42,"y":-3.42,"xe":-2.85,"ye":-2.71,"ang":39,"k":"b"},{"x":-2.63,"y":-3.42,"xe":-2.14,"ye":-2.79,"ang":38,"k":"b"},{"x":-1.84,"y":-3.42,"xe":-1.42,"ye":-2.86,"ang":37,"k":"b"},{"x":-1.05,"y":-3.42,"xe":-0.71,"ye":-2.94,"ang":35,"k":"b"},{"x":-0.26,"y":-3.42,"xe":0,"ye":-3.02,"ang":33,"k":"b"},{"x":0.53,"y":-3.42,"xe":0.71,"ye":-3.09,"ang":29,"k":"b"},{"x":1.32,"y":-3.42,"xe":1.42,"ye":-3.17,"ang":22,"k":"c"},{"x":2.11,"y":-3.42,"xe":2.13,"ye":-3.25,"ang":7,"k":"c"},{"x":2.89,"y":-3.42,"xe":2.83,"ye":-3.32,"ang":329,"k":"d"},{"x":3.68,"y":-3.42,"xe":3.54,"ye":-3.4,"ang":278,"k":"c"},{"x":4.47,"y":-3.42,"xe":4.26,"ye":-3.47,"ang":257,"k":"c"},{"x":5.26,"y":-3.42,"xe":4.97,"ye":-3.55,"ang":246,"k":"b"},{"x":6.05,"y":-3.42,"xe":5.68,"ye":-3.63,"ang":240,"k":"b"},{"x":6.84,"y":-3.42,"xe":6.39,"ye":-3.7,"ang":238,"k":"b"},{"x":7.63,"y":-3.42,"xe":7.1,"ye":-3.78,"ang":236,"k":"b"},{"x":8.42,"y":-3.42,"xe":7.81,"ye":-3.86,"ang":234,"k":"b"},{"x":9.21,"y":-3.42,"xe":8.52,"ye":-3.93,"ang":234,"k":"b"},{"x":10,"y":-3.42,"xe":9.23,"ye":-4.01,"ang":233,"k":"b"},
{"x":-5,"y":-4.21,"xe":-4.34,"ye":-3.38,"ang":38,"k":"b"},{"x":-4.21,"y":-4.21,"xe":-3.63,"ye":-3.45,"ang":37,"k":"b"},{"x":-3.42,"y":-4.21,"xe":-2.92,"ye":-3.53,"ang":36,"k":"b"},{"x":-2.63,"y":-4.21,"xe":-2.2,"ye":-3.6,"ang":35,"k":"b"},{"x":-1.84,"y":-4.21,"xe":-1.49,"ye":-3.68,"ang":33,"k":"b"},{"x":-1.05,"y":-4.21,"xe":-0.78,"ye":-3.76,"ang":31,"k":"b"},{"x":-0.26,"y":-4.21,"xe":-0.07,"ye":-3.84,"ang":27,"k":"b"},{"x":0.53,"y":-4.21,"xe":0.64,"ye":-3.91,"ang":20,"k":"b"},{"x":1.32,"y":-4.21,"xe":1.35,"ye":-3.99,"ang":8,"k":"c"},{"x":2.11,"y":-4.21,"xe":2.06,"ye":-4.07,"ang":341,"k":"c"},{"x":2.89,"y":-4.21,"xe":2.76,"ye":-4.14,"ang":298,"k":"c"},{"x":3.68,"y":-4.21,"xe":3.47,"ye":-4.22,"ang":267,"k":"c"},{"x":4.47,"y":-4.21,"xe":4.19,"ye":-4.29,"ang":254,"k":"c"},{"x":5.26,"y":-4.21,"xe":4.9,"ye":-4.37,"ang":246,"k":"b"},{"x":6.05,"y":-4.21,"xe":5.61,"ye":-4.45,"ang":241,"k":"b"},{"x":6.84,"y":-4.21,"xe":6.32,"ye":-4.52,"ang":239,"k":"b"},{"x":7.63,"y":-4.21,"xe":7.03,"ye":-4.6,"ang":237,"k":"b"},{"x":8.42,"y":-4.21,"xe":7.74,"ye":-4.68,"ang":235,"k":"b"},{"x":9.21,"y":-4.21,"xe":8.45,"ye":-4.75,"ang":235,"k":"b"},{"x":10,"y":-4.21,"xe":9.16,"ye":-4.83,"ang":234,"k":"b"},
{"x":-5,"y":-5,"xe":-4.4,"ye":-4.2,"ang":37,"k":"b"},{"x":-4.21,"y":-5,"xe":-3.69,"ye":-4.27,"ang":35,"k":"b"},{"x":-3.42,"y":-5,"xe":-2.98,"ye":-4.35,"ang":34,"k":"b"},{"x":-2.63,"y":-5,"xe":-2.27,"ye":-4.43,"ang":32,"k":"b"},{"x":-1.84,"y":-5,"xe":-1.55,"ye":-4.5,"ang":30,"k":"b"},{"x":-1.05,"y":-5,"xe":-0.84,"ye":-4.58,"ang":27,"k":"b"},{"x":-0.26,"y":-5,"xe":-0.13,"ye":-4.66,"ang":21,"k":"b"},{"x":0.53,"y":-5,"xe":0.58,"ye":-4.73,"ang":10,"k":"c"},{"x":1.32,"y":-5,"xe":1.29,"ye":-4.81,"ang":351,"k":"c"},{"x":2.11,"y":-5,"xe":2,"ye":-4.89,"ang":316,"k":"c"},{"x":2.89,"y":-5,"xe":2.7,"ye":-4.96,"ang":282,"k":"c"},{"x":3.68,"y":-5,"xe":3.41,"ye":-5.04,"ang":262,"k":"c"},{"x":4.47,"y":-5,"xe":4.13,"ye":-5.11,"ang":252,"k":"b"},{"x":5.26,"y":-5,"xe":4.84,"ye":-5.19,"ang":246,"k":"b"},{"x":6.05,"y":-5,"xe":5.55,"ye":-5.27,"ang":242,"k":"b"},{"x":6.84,"y":-5,"xe":6.26,"ye":-5.34,"ang":240,"k":"b"},{"x":7.63,"y":-5,"xe":6.97,"ye":-5.42,"ang":238,"k":"b"},{"x":8.42,"y":-5,"xe":7.68,"ye":-5.5,"ang":236,"k":"b"},{"x":9.21,"y":-5,"xe":8.39,"ye":-5.57,"ang":235,"k":"b"},{"x":10,"y":-5,"xe":9.1,"ye":-5.65,"ang":234,"k":"b"}
]
},
"resolve":{"scale":{"color":"independent","size":"independent","strokeWidth":"independent"},"legend":{"color":"independent"}},
"spacing":6,
"align":"none",
"vconcat":[
{"hconcat":[
{"hconcat":[
{"data":{"values":[{"v":""}]},"width":1,"height":337,"mark":{"type":"text","text":""},"encoding":{}},
{"data":{"name":"qa"},"width":454,"height":337,
"title":{"text":"(A)","orient":"bottom","font":"Liberation Serif","fontWeight":"bold","fontSize":31,"color":"black","dx":-33,"offset":18},
"view":{"stroke":"#333","strokeWidth":1},
"mark":{"type":"area"},
"encoding":{
"x":{"field":"v","type":"ordinal","sort":null,"title":"variance of observation noise","scale":{"type":"point","padding":0.204},"axis":{"labelAngle":0,"labelFontSize":15,"titleFontSize":15.3,"tickSize":5,"labelPadding":4,"titlePadding":5}},
"y":{"field":"p","type":"quantitative","aggregate":"sum","title":"Quality distribution of identified models (%)","scale":{"domain":[0,100],"nice":false},"axis":{"values":[0,20,40,60,80,100],"labelFontSize":15,"titleFontSize":15.3,"tickSize":5,"labelPadding":3,"titlePadding":6}},
"color":{"field":"c","type":"nominal","scale":{"domain":["excellent","good","poor"],"range":["#008000","#FFA500","#FF0000"]},"legend":{"orient":"none","legendX":347,"legendY":6,"title":null,"symbolType":"M-1,-0.35H1V0.35H-1Z","symbolSize":676,"symbolOpacity":1,"symbolStrokeWidth":0,"labelFontSize":12.7,"labelColor":"black","fillColor":"white","strokeColor":"#ccc","cornerRadius":3,"padding":2,"rowPadding":0,"clipHeight":19,"labelOffset":10}}
}}
],"spacing":-49,"resolve":{"scale":{"color":"independent"},"legend":{"color":"independent"}}},
{"data":{"name":"qb"},"width":452,"height":337,
"title":{"text":"(B)","orient":"bottom","font":"Liberation Serif","fontWeight":"bold","fontSize":31,"color":"black","dx":-32,"offset":18},
"view":{"stroke":"#333","strokeWidth":1},
"mark":{"type":"area"},
"encoding":{
"x":{"field":"v","type":"ordinal","sort":null,"title":"Number of observation dimensions","scale":{"type":"point","padding":0.1},"axis":{"labelAngle":0,"labelFontSize":15,"titleFontSize":15.3,"tickSize":5,"labelPadding":4,"titlePadding":5}},
"y":{"field":"p","type":"quantitative","aggregate":"sum","title":"Quality distribution of identified models (%)","scale":{"domain":[0,100],"nice":false},"axis":{"values":[0,20,40,60,80,100],"labelFontSize":15,"titleFontSize":15.3,"tickSize":5,"labelPadding":3,"titlePadding":6}},
"color":{"field":"c","type":"nominal","scale":{"domain":["excellent","good","poor"],"range":["#008000","#FFA500","#FF0000"]},"legend":{"orient":"none","legendX":348,"legendY":6,"title":null,"symbolType":"M-1,-0.35H1V0.35H-1Z","symbolSize":676,"symbolOpacity":1,"symbolStrokeWidth":0,"labelFontSize":12.7,"labelColor":"black","fillColor":"white","strokeColor":"#ccc","cornerRadius":3,"padding":2,"rowPadding":0,"clipHeight":19,"labelOffset":10}}
}}
],"spacing":281,"resolve":{"scale":{"color":"independent"},"legend":{"color":"independent"}}},
{"hconcat":[
{"width":335,"height":341,
"title":{"text":"(C)","orient":"bottom","font":"Liberation Serif","fontWeight":"bold","fontSize":31,"color":"black","dx":-153,"offset":14},
"view":{"stroke":"#222","strokeWidth":1.6},
"encoding":{
"x":{"field":"x","type":"quantitative","title":"x₁","scale":{"domain":[-5.78,10.79],"nice":false,"zero":false},"axis":{"values":[-4,-2,0,2,4,6,8,10],"labelFontSize":12.5,"titleFontSize":13,"titleFontStyle":"italic","tickSize":4,"labelPadding":8,"titlePadding":4}},
"y":{"field":"y","type":"quantitative","title":"x₂","scale":{"domain":[-5.75,10.78],"nice":false,"zero":false},"axis":{"values":[-4,-2,0,2,4,6,8,10],"labelFontSize":12.5,"titleFontSize":13,"titleFontStyle":"italic","tickSize":4,"labelPadding":8,"titlePadding":6}},
"color":{"field":"k","type":"nominal","legend":null,"scale":{"domain":["r","s","t","b","c","d","o"],"range":["#e3061a","#e3061a","#e3061a","#1c6cbb","#1c6cbb","#1c6cbb","#fdae0a"]}}
},
"layer":[
{"data":{"name":"tl"},"layer":[
{"mark":{"type":"rule","clip":true},"encoding":{"x2":{"field":"xe"},"y2":{"field":"ye"},"strokeWidth":{"field":"k","type":"nominal","legend":null,"scale":{"type":"ordinal","domain":["r","s","t","b","c","d","o"],"range":[1.5,1,0.8,1.3,1,0.8,2.6]}}}},
{"mark":{"type":"point","filled":true,"clip":true,"opacity":1,"strokeWidth":0,"shape":"M0,-0.4L-1,1.6L0,1L1,1.6Z"},"encoding":{"x":{"field":"xe","type":"quantitative"},"y":{"field":"ye","type":"quantitative"},"angle":{"field":"ang","type":"quantitative","scale":{"domain":[0,360],"range":[0,360]}},"size":{"field":"k","type":"nominal","legend":null,"scale":{"type":"ordinal","domain":["r","s","t","b","c","d","o"],"range":[32,9,3,22,9,3,72]}}}}
]},
{"data":{"name":"br"},"layer":[
{"mark":{"type":"rule","clip":true},"encoding":{"x2":{"field":"xe"},"y2":{"field":"ye"},"strokeWidth":{"field":"k","type":"nominal","legend":null,"scale":{"type":"ordinal","domain":["r","s","t","b","c","d","o"],"range":[1.5,1,0.8,1.3,1,0.8,2.6]}}}},
{"mark":{"type":"point","filled":true,"clip":true,"opacity":1,"strokeWidth":0,"shape":"M0,-0.4L-1,1.6L0,1L1,1.6Z"},"encoding":{"x":{"field":"xe","type":"quantitative"},"y":{"field":"ye","type":"quantitative"},"angle":{"field":"ang","type":"quantitative","scale":{"domain":[0,360],"range":[0,360]}},"size":{"field":"k","type":"nominal","legend":null,"scale":{"type":"ordinal","domain":["r","s","t","b","c","d","o"],"range":[32,9,3,22,9,3,72]}}}}
]},
{"data":{"name":"cm"},"layer":[
{"mark":{"type":"rule","clip":true},"encoding":{"x2":{"field":"xe"},"y2":{"field":"ye"},"strokeWidth":{"field":"k","type":"nominal","legend":null,"scale":{"type":"ordinal","domain":["r","s","t","b","c","d","o"],"range":[1.5,1,0.8,1.3,1,0.8,2.6]}}}},
{"mark":{"type":"point","filled":true,"clip":true,"opacity":1,"strokeWidth":0,"shape":"M0,-0.4L-1,1.6L0,1L1,1.6Z"},"encoding":{"x":{"field":"xe","type":"quantitative"},"y":{"field":"ye","type":"quantitative"},"angle":{"field":"ang","type":"quantitative","scale":{"domain":[0,360],"range":[0,360]}},"size":{"field":"k","type":"nominal","legend":null,"scale":{"type":"ordinal","domain":["r","s","t","b","c","d","o"],"range":[32,9,3,22,9,3,72]}}}}
]}
]},
{"width":335,"height":341,
"title":{"text":"(D)","orient":"bottom","font":"Liberation Serif","fontWeight":"bold","fontSize":31,"color":"black","dx":-187,"offset":14},
"view":{"stroke":"#222","strokeWidth":1.6},
"encoding":{
"x":{"field":"x","type":"quantitative","title":"x₁","scale":{"domain":[-5.78,10.79],"nice":false,"zero":false},"axis":{"values":[-4,-2,0,2,4,6,8,10],"labelFontSize":12.5,"titleFontSize":13,"titleFontStyle":"italic","tickSize":4,"labelPadding":8,"titlePadding":4}},
"y":{"field":"y","type":"quantitative","title":"x₂","scale":{"domain":[-5.75,10.78],"nice":false,"zero":false},"axis":{"values":[-4,-2,0,2,4,6,8,10],"labelFontSize":12.5,"titleFontSize":13,"titleFontStyle":"italic","tickSize":4,"labelPadding":8,"titlePadding":6}},
"color":{"field":"k","type":"nominal","legend":null,"scale":{"domain":["r","s","t","b","c","d","m","h"],"range":["#fdae0a","#fdae0a","#fdae0a","#1c6cbb","#1c6cbb","#1c6cbb","#e3061a","#e3061a"]}}
},
"layer":[
{"data":{"name":"tl"},"transform":[{"filter":"datum.x-datum.y<=-2.3"}],"layer":[
{"mark":{"type":"rule","clip":true},"encoding":{"x2":{"field":"xe"},"y2":{"field":"ye"},"strokeWidth":{"field":"k","type":"nominal","legend":null,"scale":{"type":"ordinal","domain":["r","s","t","b","c","d","m","h"],"range":[1.3,1,0.8,1.3,1,0.8,1.8,1]}}}},
{"mark":{"type":"point","filled":true,"clip":true,"opacity":1,"strokeWidth":0,"shape":"M0,-0.4L-1,1.6L0,1L1,1.6Z"},"encoding":{"x":{"field":"xe","type":"quantitative"},"y":{"field":"ye","type":"quantitative"},"angle":{"field":"ang","type":"quantitative","scale":{"domain":[0,360],"range":[0,360]}},"size":{"field":"k","type":"nominal","legend":null,"scale":{"type":"ordinal","domain":["r","s","t","b","c","d","m","h"],"range":[24,9,3,22,9,3,40,16]}}}}
]},
{"data":{"name":"br"},"transform":[{"filter":"datum.x-datum.y>=3.1&&datum.x>-1.8"}],"layer":[
{"mark":{"type":"rule","clip":true},"encoding":{"x2":{"field":"xe"},"y2":{"field":"ye"},"strokeWidth":{"field":"k","type":"nominal","legend":null,"scale":{"type":"ordinal","domain":["r","s","t","b","c","d","m","h"],"range":[1.3,1,0.8,1.3,1,0.8,1.8,1]}}}},
{"mark":{"type":"point","filled":true,"clip":true,"opacity":1,"strokeWidth":0,"shape":"M0,-0.4L-1,1.6L0,1L1,1.6Z"},"encoding":{"x":{"field":"xe","type":"quantitative"},"y":{"field":"ye","type":"quantitative"},"angle":{"field":"ang","type":"quantitative","scale":{"domain":[0,360],"range":[0,360]}},"size":{"field":"k","type":"nominal","legend":null,"scale":{"type":"ordinal","domain":["r","s","t","b","c","d","m","h"],"range":[24,9,3,22,9,3,40,16]}}}}
]},
{"data":{"name":"dm"},"layer":[
{"mark":{"type":"rule","clip":true},"encoding":{"x2":{"field":"xe"},"y2":{"field":"ye"},"strokeWidth":{"field":"k","type":"nominal","legend":null,"scale":{"type":"ordinal","domain":["r","s","t","b","c","d","m","h"],"range":[1.3,1,0.8,1.3,1,0.8,1.8,1]}}}},
{"mark":{"type":"point","filled":true,"clip":true,"opacity":1,"strokeWidth":0,"shape":"M0,-0.4L-1,1.6L0,1L1,1.6Z"},"encoding":{"x":{"field":"xe","type":"quantitative"},"y":{"field":"ye","type":"quantitative"},"angle":{"field":"ang","type":"quantitative","scale":{"domain":[0,360],"range":[0,360]}},"size":{"field":"k","type":"nominal","legend":null,"scale":{"type":"ordinal","domain":["r","s","t","b","c","d","m","h"],"range":[24,9,3,22,9,3,40,16]}}}}
]}
]},
{"data":{"name":"e"},"width":334,"height":341,
"title":{"text":"(E)","orient":"bottom","font":"Liberation Serif","fontWeight":"bold","fontSize":31,"color":"black","dx":-186,"offset":14},
"view":{"stroke":"#222","strokeWidth":1.6},
"encoding":{
"x":{"field":"x","type":"quantitative","title":"x₁","scale":{"domain":[-5.78,10.79],"nice":false,"zero":false},"axis":{"values":[-4,-2,0,2,4,6,8,10],"labelFontSize":12.5,"titleFontSize":13,"titleFontStyle":"italic","tickSize":4,"labelPadding":8,"titlePadding":4}},
"y":{"field":"y","type":"quantitative","title":"x₂","scale":{"domain":[-5.75,10.78],"nice":false,"zero":false},"axis":{"values":[-4,-2,0,2,4,6,8,10],"labelFontSize":12.5,"titleFontSize":13,"titleFontStyle":"italic","tickSize":4,"labelPadding":8,"titlePadding":6}},
"color":{"field":"k","type":"nominal","legend":null,"scale":{"domain":["r","s","t","b","c","d"],"range":["#e3061a","#e3061a","#e3061a","#1c6cbb","#1c6cbb","#1c6cbb"]}}
},
"layer":[
{"mark":{"type":"rule","clip":true},"encoding":{"x2":{"field":"xe"},"y2":{"field":"ye"},"strokeWidth":{"field":"k","type":"nominal","legend":null,"scale":{"type":"ordinal","domain":["r","s","t","b","c","d"],"range":[1.2,0.9,0.7,1.1,0.9,0.7]}}}},
{"mark":{"type":"point","filled":true,"clip":true,"opacity":1,"strokeWidth":0,"shape":"M0,-0.4L-1,1.6L0,1L1,1.6Z"},"encoding":{"x":{"field":"xe","type":"quantitative"},"y":{"field":"ye","type":"quantitative"},"angle":{"field":"ang","type":"quantitative","scale":{"domain":[0,360],"range":[0,360]}},"size":{"field":"k","type":"nominal","legend":null,"scale":{"type":"ordinal","domain":["r","s","t","b","c","d"],"range":[22,9,3,18,9,3]}}}}
]}
],"spacing":77,"resolve":{"scale":{"color":"independent","size":"independent","strokeWidth":"independent"}}}
]}
